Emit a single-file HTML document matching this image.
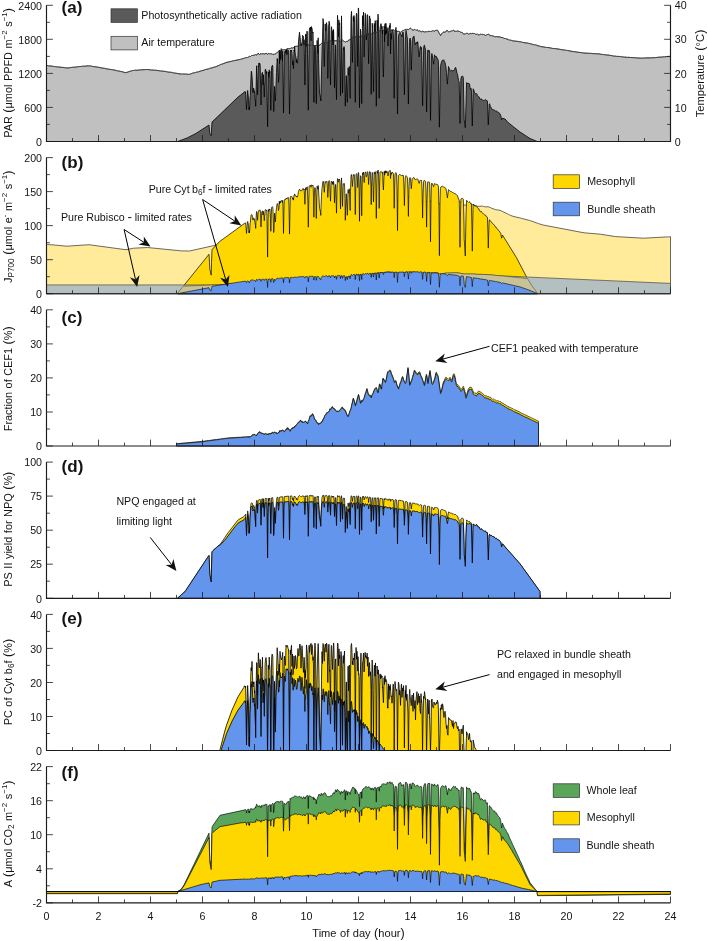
<!DOCTYPE html>
<html><head><meta charset="utf-8"><title>Figure</title>
<style>html,body{margin:0;padding:0;background:#fff}svg{display:block;will-change:transform}</style></head>
<body>
<svg width="708" height="941" viewBox="0 0 708 941">
<rect width="708" height="941" fill="#fff"/>
<path d="M46.5 141.5 L46.5 65.5 L47.5 65.5 L48.5 65.8 L49.5 65.9 L50 65.9 L51 66 L52.5 66.2 L53 66.4 L54 66.5 L54.5 66.5 L55.5 66.7 L56 66.7 L56.5 66.8 L57 66.8 L57.5 66.9 L58.5 67 L60 67 L61.5 67.4 L62 67.3 L64.5 67.6 L65.5 67.8 L66 67.8 L66.5 67.9 L68 67.9 L69.5 67.7 L71 67.6 L71.5 67.4 L72 67.4 L72.5 67.3 L73.5 67.2 L74 67.3 L75.5 67 L76.5 67 L77.5 66.8 L78 66.6 L79 66.5 L79.5 66.6 L81.5 66.4 L82.5 66.2 L84.5 66.2 L85 66.2 L87 65.9 L88 65.8 L88.5 65.9 L89 65.7 L90 65.8 L90.5 66 L91.5 66.1 L92.5 66.4 L93.5 66.6 L94 66.6 L96.5 66.9 L97 67.1 L98.5 67.2 L100 67.6 L103 68.2 L104.5 68.3 L105.5 68.6 L107 68.8 L107.5 69 L108 69 L108.5 69.1 L109 69.1 L109.5 69.3 L111.5 69.6 L112 69.7 L112.5 69.7 L113 69.9 L114.5 70 L116.5 70.6 L117 70.7 L117.5 70.8 L118.5 71 L119 71 L120.5 71.4 L122 71.7 L125.5 72.7 L128 72 L129.5 71.4 L131 71.1 L131.5 70.9 L132.5 70.6 L133 70.6 L133.5 70.5 L134 70.5 L134.5 70.2 L135.5 70.2 L136 70.3 L137 70.2 L138 70.2 L139 70.1 L139.5 69.8 L140.5 69.8 L141.5 69.9 L142 69.7 L145 69.7 L145.5 69.5 L146.5 69.5 L147 69.6 L148 69.5 L149 69.7 L151.5 70 L153 70 L153.5 70.1 L154 70.3 L155 70.2 L155.5 70.1 L156 70.3 L159 70.7 L159.5 70.8 L160 70.8 L160.5 70.9 L161 70.9 L161.5 71.1 L162 71 L163 71.1 L164.5 71.4 L165 71.4 L166 71.5 L166.5 71.7 L167 71.7 L167.5 71.9 L169 72.2 L170.5 72.2 L172.5 72.5 L173.5 72.9 L174 73 L175.5 73.1 L178 73.6 L179 73.7 L180 74 L181.5 73.9 L182 74.1 L182.5 74.1 L183.5 73.9 L185.5 74.1 L186.5 74.1 L187 74 L188.5 74.4 L189.5 74.2 L190 74 L190.5 74 L192 73.4 L192.5 73.2 L194.5 72.7 L195.5 72.5 L196.5 72.1 L197 72 L197.5 72 L198.5 71.8 L199 71.5 L201 71 L201.5 70.7 L203 70.5 L205.5 69.5 L208.5 68.9 L210 68.2 L210.5 68.2 L213 67.6 L213.5 67.3 L215.5 66.8 L218 65.8 L220 64.9 L220.5 64.5 L221.5 64.2 L222 64.2 L226 62.6 L228 62 L229.5 61.7 L230 61.5 L231.5 61.3 L232.5 60.9 L233.5 60.8 L238 59.8 L238.5 59.8 L239 59.6 L240 59.4 L240.5 59.3 L241 59.2 L241.5 59 L242 58.9 L243 58.6 L243.5 58.4 L244 58.5 L244.5 58.2 L245 58.2 L245.5 57.6 L246 57.7 L246.5 57.6 L247 57.5 L247.5 57.5 L248 57.1 L248.5 57 L249 56.6 L249.5 56.4 L250 56.6 L250.5 56.5 L251 56.1 L251.5 55.5 L252 55.1 L252.5 55.5 L254.6 55.1 L255 55.2 L255.5 54.6 L256 54.9 L256.6 55 L257 54.9 L258 53.2 L259 54 L259.5 54.6 L260 54 L260.5 53.8 L261 53.5 L261.5 54 L262 54.1 L263 53.6 L263.5 53.7 L264 54.1 L265.5 53.7 L266 53.1 L267 53.6 L267.5 54.4 L268 54.1 L268.5 53.4 L269.5 53.7 L270 54 L270.5 53.8 L271 53.7 L271.5 53.8 L272 54.1 L272.5 54.1 L273 54.6 L273.5 54.3 L274 54.5 L274.5 54 L275.5 53.8 L276 53.5 L276.5 52.8 L277 52.7 L278.5 51.6 L279.5 51.5 L280 51 L280.5 50.7 L281 51.1 L281.5 50.9 L282 50.4 L282.5 49.6 L283 49.7 L283.5 49.8 L284.5 49.7 L285.1 49.8 L285.5 49.8 L286 49.6 L286.5 49.2 L288 48.4 L288.5 48.6 L289 48.5 L289.5 48.6 L290 48.5 L290.5 48.4 L291 48.3 L292 47.6 L292.5 48 L293 47.6 L293.5 47.6 L294 47.3 L294.5 47.2 L295 46.9 L295.5 46.2 L296 45.9 L296.5 46.3 L297.5 46.3 L298 45.6 L298.5 45.6 L299 45.6 L299.6 45.3 L300 45.3 L300.5 45 L301 44.9 L301.5 44.7 L302.5 44.5 L303 44.1 L303.5 44.8 L304 44.5 L304.5 44.6 L305 43.6 L305.5 43.3 L306 43.2 L307 43.7 L307.5 43.8 L308 44.2 L309 45.5 L309.5 45.4 L310.5 45.5 L311 45.4 L311.5 44.9 L312 44.6 L312.5 45.3 L313.1 45.5 L313.5 45.6 L314 45.5 L315 45.7 L315.5 45.6 L316 45.8 L317 44.9 L317.5 44.9 L318 44.9 L318.5 45.4 L319 45 L319.5 45.3 L320 44.9 L320.5 44.3 L321.5 43.4 L322.5 44.1 L323 44.2 L323.5 44 L324 42.9 L325 42.5 L325.5 42.8 L326 42.8 L326.5 43.1 L327 42.9 L327.5 42.7 L328 41.8 L328.5 41.8 L330 41.1 L330.5 40.8 L331 41.4 L331.6 41.4 L332.5 41.7 L333.5 41.3 L334 40.8 L334.5 40.9 L335 40.7 L336.5 40.8 L337 40.2 L337.5 40.4 L338 40.8 L338.5 41.3 L339 41.2 L339.5 41.3 L340 41.1 L340.5 41.2 L341 40.7 L342 40 L342.5 40.1 L343.5 41 L344.5 41.5 L345 41.7 L345.5 42.1 L346 42 L346.5 41.4 L347 41.6 L348 41.2 L348.5 40.2 L349 40.3 L349.5 39.9 L350 39.8 L350.5 39 L351 39.2 L351.6 38.3 L352 37.9 L352.5 37.2 L353 37.4 L354 37.2 L354.5 36.7 L355 37 L355.5 37.1 L356.1 37 L356.5 36.8 L357 36.2 L357.5 36.2 L358 35.8 L359 36.2 L359.5 36.9 L360 37 L360.5 36.7 L361 36 L361.5 36.1 L362 36 L362.5 36.3 L363.5 36.6 L364 36.2 L364.5 36 L365.5 35.2 L366 35.2 L367 36.4 L367.5 35.9 L368 34.4 L368.5 33.7 L369 33.8 L369.5 34.4 L370 34.7 L370.5 34.2 L371 34.3 L371.5 33.8 L372 33.9 L372.5 33.3 L373.5 32.9 L374 32.9 L374.5 32.5 L375.5 31.8 L376.5 32.2 L377 32.4 L377.5 32.2 L378 31.8 L378.5 31.6 L379 30.8 L379.5 30.7 L380 30.7 L380.5 31 L381 31.1 L381.5 30.4 L382 30.4 L382.5 30.1 L383 30.6 L383.5 30.5 L384 31 L384.5 30 L385 29.5 L385.5 28.7 L386 29.5 L386.5 29.6 L387 29.5 L387.5 29 L388 28.7 L388.5 28.6 L389 29.3 L389.5 29.5 L390 30.5 L390.5 30.4 L391 30.7 L391.5 30.3 L392 30.4 L392.5 30.2 L393 29.7 L394 30.1 L394.5 30.8 L395.5 30.6 L396.5 30.7 L397 31.5 L397.5 31.4 L398 31.5 L398.5 31.4 L399 31.4 L399.6 31.8 L400.5 32.3 L401 31.9 L401.5 31.8 L402 31 L402.6 30.6 L403 30.4 L403.5 30.4 L404 30.3 L404.5 30 L405 29.5 L406 29.4 L406.5 29.6 L407 29.1 L408 29.6 L408.5 29.6 L409.5 28.6 L410 28.5 L410.5 28.2 L411 28.4 L412 29.7 L413 30.1 L413.5 30.1 L414 29.9 L414.5 29.4 L415 29.4 L416 30.5 L416.5 30.2 L417 29.7 L418 30.4 L418.5 31.2 L419 30.8 L419.5 30.7 L420.5 31.1 L421 31.9 L421.6 31.8 L422.5 31.3 L424.5 32 L425.6 31.6 L426 31.4 L426.5 31.9 L427 31.9 L427.6 31.6 L428.5 31.3 L429 31.5 L429.6 31.4 L430.5 31.5 L431 31.7 L431.5 31.3 L432 31.2 L432.5 30.8 L433 31 L433.5 30.9 L434 31.2 L434.5 31.2 L435 31 L435.5 30.4 L436 30.3 L437 30.4 L437.5 30.3 L438 30.7 L438.5 32 L439 32.8 L439.5 33.9 L440 34.5 L440.5 35.6 L442 33.3 L442.5 32.8 L443 32.3 L443.5 32.1 L444 32.1 L445 32.2 L445.5 32 L446.5 30.6 L447 30.3 L447.5 30.5 L448 31.3 L448.5 31.9 L449.5 31.8 L450 31.4 L450.5 31.3 L451.5 31 L452 31.4 L452.5 31 L453 30.4 L453.5 30 L454 30.6 L454.5 31.5 L455.5 31.3 L456 30.9 L456.5 31.3 L457 31 L457.5 30.9 L459.5 31.5 L460 32 L460.5 32.1 L461 32.4 L461.5 32.2 L462 32.8 L462.5 32.7 L463 33.6 L463.5 33.9 L464 34.3 L464.5 33.9 L465 34.2 L465.5 33.7 L466 33.7 L466.5 33.3 L467.5 33.4 L468.5 34.1 L469.5 33.8 L470 33.4 L470.6 33.4 L471 33.4 L471.5 33.6 L472 33.4 L473.2 33.4 L473.5 33.5 L474 33.7 L474.5 33.5 L475 33.9 L475.5 34 L476 34.6 L476.5 34.2 L477.5 34 L478 34.5 L479 35.2 L479.5 35 L480 34.5 L480.5 34 L481 33.9 L481.5 34.4 L482 34.3 L482.5 34.4 L483 34.3 L483.5 34.5 L484 34.5 L484.5 34.9 L485 35 L485.5 35.4 L486 35 L486.5 34.9 L487 34.6 L487.5 34.5 L488 34.7 L488.5 34.3 L489 34.6 L489.5 34.7 L490 35.5 L491 35.8 L491.5 35.6 L493 35.9 L493.5 36.2 L494 36.3 L494.5 36.6 L495 36.6 L495.5 36.7 L496 36.7 L496.5 36.6 L498 36.8 L500 36.9 L500.5 37.1 L501 37.5 L502 37.6 L502.5 37.5 L503.5 38.1 L504.5 38.5 L505 38.3 L506 38.7 L506.5 39 L507 39 L508 39.3 L508.5 39.8 L509 39.8 L509.5 40 L510 39.9 L510.5 40.1 L511 40.1 L511.5 40.4 L512.5 40.8 L513 40.8 L514.5 41 L518.5 41.5 L520 41.9 L520.5 41.8 L521 41.8 L521.5 41.9 L522 42.2 L522.5 42.4 L524 42.5 L525 42.8 L527 43 L527.5 43 L528 43.1 L528.5 43.3 L530 43.6 L530.5 43.8 L531.5 44 L532.5 44.3 L533 44.4 L533.5 44.6 L534.5 44.9 L535.5 44.8 L536.5 45.1 L537 45.5 L538 45.8 L539.5 46.1 L540.5 46.4 L541 46.6 L542 46.8 L543 46.8 L545.5 47.3 L546.5 47.5 L547.5 47.5 L549 47.6 L550.5 48 L551.5 48.1 L552.5 48.4 L554.5 48.6 L555.5 48.6 L558 49 L559 49.2 L560 49.3 L561 49.6 L563 49.8 L563.5 49.9 L564.5 49.9 L565 50 L565.5 50.2 L566.5 50.4 L567.5 50.5 L569 50.8 L573 51.5 L574 51.7 L574.5 51.8 L575 51.7 L576 51.8 L576.5 52 L577 52 L579 52.4 L581.5 52.6 L583 53 L583.5 52.9 L584 53 L585 53.1 L587.5 53.2 L588 53.3 L589.5 53.3 L591.5 53.4 L593.5 53.7 L594 53.7 L596.5 53.7 L597 53.8 L598 53.9 L598.5 53.8 L599 53.8 L601.5 54.4 L602.5 54.4 L603.5 54.6 L604.5 54.6 L606.5 55 L608 55 L609 55.2 L610.5 55.4 L612 55.7 L613.5 56 L614.5 56.1 L615 56 L616.5 56.4 L618 56.3 L619 56.5 L619.5 56.5 L620 56.6 L620.5 56.6 L621 56.7 L621.5 56.7 L623.5 57 L624.5 57.1 L626 57.1 L627 57.4 L627.5 57.4 L629 57.3 L630.5 57.5 L634.5 57.7 L636 57.9 L636.5 57.8 L637 57.9 L640 58.1 L641.5 58.1 L642 58.2 L642.5 58.1 L643 58 L644 58 L644.5 58.1 L646 57.9 L648 57.8 L649 57.9 L651 57.8 L651.5 57.8 L655.5 57.6 L659.5 57.1 L661 57.1 L661.5 57 L662.5 57 L664 56.7 L664.5 56.8 L665 56.7 L667 56.6 L668.5 56.5 L669 56.4 L669.5 56.4 L670.5 56.2 L670.5 141.5 Z" fill="#c0c0c0" stroke="#2c2c2c" stroke-width="0.75" stroke-linejoin="round" />
<path d="M177.9 141.5 L177.9 141.4 L187 138 L196 133.4 L209 125 L209.8 133.4 L211.2 135.7 L212 122.1 L238 97.1 L244 92.4 L244.5 91.7 L245 91.8 L245.5 92.5 L245.6 91.7 L246.5 109.6 L247 101.6 L247.5 91.9 L247.7 90.4 L248.5 99.3 L249 109.7 L249.3 107 L249.5 109.8 L250 98 L250.3 95.7 L251 76.9 L251.3 71.1 L251.5 71.5 L252 75.8 L253 92.6 L253.3 89 L253.5 88.1 L254 89.2 L254.5 92.4 L254.6 91.7 L255 98.7 L255.5 102.7 L255.7 106.3 L256.6 65.8 L257 75.6 L257.5 94.8 L257.6 94.4 L258.4 65.7 L258.5 66.9 L259 62.9 L259.2 64.5 L259.5 63.1 L260 63.9 L260.2 66.1 L261 105 L261.8 75 L262 73.1 L262.5 72.3 L263 85 L263.5 74.7 L264.3 97 L264.5 89.3 L265 80.9 L265.1 70.2 L265.5 69.1 L266.5 73.9 L266.8 71.4 L267 92.1 L267.6 126.9 L268.4 72.1 L268.5 76.9 L269 77.3 L269.2 69.8 L269.5 73.1 L270 71.4 L270.8 110.3 L271.6 67 L272 66.3 L272.5 65.2 L272.8 67.1 L273.6 111.6 L274 110 L274.5 86.4 L275.3 101 L275.5 99 L276 84.4 L276.5 72.5 L277.2 58.5 L277.5 60.7 L277.7 59.5 L278.5 82.4 L279 75.7 L279.3 50 L279.5 63.7 L280 50.6 L280.5 59.5 L281.2 48.6 L281.5 49.7 L282 56.7 L282.5 61 L282.7 51.2 L283.5 113 L284.3 55.6 L284.5 55.9 L285 51.3 L285.1 53.2 L285.5 50.4 L286 52.6 L286.5 49.1 L287 54.8 L287.1 50.5 L287.5 49.8 L288 49.7 L288.5 50.5 L288.7 53 L289 80.2 L289.5 114 L290 86.2 L290.3 52.6 L290.5 50.1 L291 51.1 L291.5 50 L292 53.6 L292.5 63.7 L292.8 65 L293 60.9 L293.5 68.6 L294 50.1 L294.5 51.7 L294.6 46 L295 51.9 L295.5 55.6 L296 57.4 L296.4 62.4 L296.5 59.5 L297 62.6 L297.5 63.2 L298 55 L298.5 41.3 L299.5 32.1 L299.6 33.9 L300 36 L300.5 41.6 L301 45.9 L301.3 43.8 L301.5 45.3 L302 42.8 L302.4 37.8 L302.5 35.3 L303.5 36.5 L304 44.6 L304.1 39.7 L304.9 85 L305 77.1 L305.5 53.8 L305.7 34 L306 46.5 L306.5 36.7 L307 31.1 L307.3 31.9 L307.5 53.6 L308 85.3 L308.3 110.2 L309 50.1 L309.1 33.1 L309.5 29.2 L310 27.7 L310.2 29.9 L310.5 27 L311 40.8 L311.5 26.6 L311.9 29.2 L312 28.6 L312.5 32.9 L313 32.8 L313.1 32.1 L313.5 72 L313.9 102.3 L314.6 46.5 L315 45.2 L315.5 48.8 L316.3 103.6 L317.1 40.4 L317.5 46.9 L318 53.4 L318.2 37.8 L318.5 58.7 L319.5 93 L320 94.9 L320.5 98.1 L320.8 101 L322 53.2 L322.5 38.4 L323 18.5 L323.5 23 L324 54.7 L324.3 66.4 L324.5 54.8 L325 36.4 L325.2 23.9 L325.5 30.9 L326 29 L326.5 22.6 L327 26.1 L327.8 78.4 L328.5 50.5 L328.6 26.1 L328.9 23.9 L329 21.3 L329.5 22.8 L329.7 26.3 L330 64.5 L330.5 85 L331.3 30.2 L331.5 26.7 L332 31.8 L332.5 41.5 L332.8 30.5 L333 45 L333.5 29.5 L333.7 32.8 L334.5 87.6 L335 62.8 L335.4 46.5 L335.5 44.9 L335.7 48.6 L336 78.4 L336.5 99.6 L337.5 15.3 L338 25 L338.5 36.8 L338.9 19.9 L339 24.9 L339.5 22.8 L339.7 22.9 L340.5 95.6 L341.5 15.9 L342 59.4 L342.5 93 L343.3 48.4 L343.5 49.7 L344 46.5 L344.5 48.9 L345.3 106.2 L345.5 97.8 L346 83.8 L346.1 76.9 L346.4 75.7 L346.5 83 L347.3 102.3 L347.5 97.6 L348 70.4 L348.1 67.8 L348.5 75.1 L349 74.8 L349.3 66.4 L349.5 77.7 L350 95.3 L350.2 98.3 L350.5 73.3 L351 17.3 L351.5 11.3 L351.6 13.9 L352 40.6 L352.4 62.4 L353 34.8 L353.3 16.6 L353.5 21.3 L354 15.5 L354.5 20 L355 76.5 L355.3 102.3 L356 34.9 L356.1 18.1 L356.5 13.2 L356.9 14.6 L357 18.1 L357.7 66.4 L358 43.3 L358.3 8 L358.5 8 L358.7 12 L359.5 107.6 L360.5 29.2 L360.9 32.2 L361.7 103.6 L362 75.8 L362.5 15.7 L363 25.6 L363.5 12 L364 54 L364.3 57.1 L365 20.1 L365.2 13.3 L365.5 14.4 L366 27.5 L366.3 39.8 L366.5 36.9 L367 32.4 L367.1 15.6 L367.5 14.6 L367.8 16.6 L368.6 63.7 L369 44.6 L369.5 15.9 L370 18.4 L370.4 19 L370.5 36.1 L371 73.8 L371.2 94.3 L372.2 23.2 L372.5 27 L372.7 25.9 L373 64 L373.5 91.6 L374 60.6 L374.3 23.4 L374.5 26.9 L375 31.9 L375.2 20.6 L375.5 24 L376.3 106.2 L376.5 92.6 L377.1 20.2 L377.5 30.4 L378 14.1 L378.4 19.9 L378.5 41.6 L379.2 98.3 L380 28.1 L380.5 25.2 L381 23.6 L381.5 26.4 L381.8 28.6 L382 26.3 L382.5 33.9 L382.6 30.5 L383 64.9 L383.4 77 L383.5 74.3 L384 45.2 L384.2 26 L384.5 42 L385 23.7 L385.5 34.8 L385.8 23.9 L386 23.3 L386.5 33.3 L387 27.5 L387.5 33.7 L387.8 34.5 L388 46.1 L388.5 32.7 L389 28.3 L389.5 25.5 L390 27.9 L390.2 23.2 L390.5 54 L391 33.4 L391.5 39.2 L391.8 31.9 L392 29.5 L393 31.2 L393.4 34.6 L394.2 98.3 L395 32.6 L395.5 30.3 L396 27.4 L396.1 30 L396.5 30.4 L397.5 114 L398.4 36.8 L399 33.8 L399.5 33.3 L399.6 32.8 L400 33.1 L400.5 33.5 L401 34.5 L401.3 35.6 L401.5 35.4 L402 36.9 L402.6 32.8 L403 31.9 L403.4 33.2 L404.4 94.7 L405.4 36.3 L405.5 35.7 L406 30.4 L407.4 38.8 L408.4 104.1 L409.4 42.6 L409.5 41.9 L409.7 39.3 L410 38.1 L410.4 38.5 L411.3 70.1 L412.2 41 L412.5 39.4 L412.9 37.5 L413 37.2 L413.5 37.3 L413.9 36.1 L414 36.2 L415 44.4 L415.3 44.8 L415.5 44 L416 42.5 L416.5 42.4 L417 43.7 L417.7 41.7 L418 44 L418.5 51.9 L419 56.1 L419.2 56.9 L420 48.3 L420.5 46.4 L420.8 46.8 L421 48.8 L421.5 47.6 L421.6 47.6 L422.6 105.7 L423.6 50.2 L423.9 45.9 L424 45.5 L424.5 45.2 L425 47.8 L425.2 48.1 L425.5 50 L425.6 50.2 L426.6 112 L427.6 52.1 L427.9 49.9 L428 50 L428.5 51.5 L429 51.3 L429.2 50.4 L429.5 51.4 L429.6 51.8 L430.5 120.4 L431.4 57 L431.9 53.5 L433 59.7 L433.5 63.8 L433.6 64.2 L434 60.5 L434.5 54.8 L435 56.1 L435.5 56.6 L436 56.1 L436.5 56.8 L437 58.9 L437.4 58.4 L437.5 58.5 L438 59.4 L438.4 62.1 L439.4 127.2 L440.4 66.8 L440.5 66.5 L441 63.8 L441.2 63 L442 61 L442.5 59.9 L443 60.4 L443.5 60.2 L443.8 59.8 L444 60.5 L444.5 61.3 L445 62.5 L445.5 65.1 L445.8 65.7 L446.5 72.6 L447.4 84.1 L448.5 66.5 L449 67.7 L450 70.6 L450.5 71.2 L451 70.4 L451.5 70.3 L452.5 70.9 L453 70.5 L453.5 70 L453.8 70.5 L454 70.6 L454.5 69.7 L455 68 L455.5 67.4 L455.8 67.6 L457 73.2 L457.3 73.7 L457.5 74.3 L458.5 80.4 L459 81.4 L459.2 81.9 L460 123.4 L460.9 78.6 L461.5 77 L461.6 76.4 L462 76 L462.5 76 L463 76.8 L463.3 77.5 L464.2 119.7 L465.3 127.7 L466.6 82.6 L467 83.5 L467.5 83.3 L468 83.3 L468.5 83.6 L468.6 83.3 L469 83.3 L469.5 84.1 L470 87.2 L470.5 89.4 L471 88.4 L471.4 89.6 L472.3 126 L473.2 88.8 L473.5 89.7 L474 90.5 L474.5 92.7 L475 93.4 L475.5 93.5 L475.9 94.1 L476 94.2 L476.5 93.6 L477 94.2 L477.5 95.8 L478 96.4 L478.6 96.7 L479 96.8 L480 99 L480.5 99.5 L481.5 98.8 L482 99.6 L482.5 100.2 L483 100.2 L483.5 100.4 L484.5 100.3 L485 99.8 L485.5 99.6 L486 100.3 L486.5 100.7 L486.8 100.4 L487 100.5 L487.4 100.9 L488.3 124.8 L489.2 104.2 L489.6 103.7 L490 105.2 L490.5 106.5 L491.5 108.3 L491.8 109.1 L492 109.3 L492.5 109.6 L493 109.6 L493.5 109.7 L494 110.2 L494.5 110.2 L495 110.5 L495.5 111.2 L496 110.8 L496.5 110.9 L497 111.6 L498 112.3 L498.5 112.5 L499 112.8 L499.8 113.5 L500.5 115.1 L500.8 115.6 L501.6 119.9 L502.5 118.2 L505.1 119 L507.8 122.3 L520 132 L530 138.5 L537 141.4 L537 141.5 Z" fill="#5a5a5a" stroke="#000" stroke-width="0.8" stroke-linejoin="round" />
<path d="M46.5 65.5 L47.5 65.5 L48.5 65.8 L49.5 65.9 L50 65.9 L51 66 L52.5 66.2 L53 66.4 L54 66.5 L54.5 66.5 L55.5 66.7 L56 66.7 L56.5 66.8 L57 66.8 L57.5 66.9 L58.5 67 L60 67 L61.5 67.4 L62 67.3 L64.5 67.6 L65.5 67.8 L66 67.8 L66.5 67.9 L68 67.9 L69.5 67.7 L71 67.6 L71.5 67.4 L72 67.4 L72.5 67.3 L73.5 67.2 L74 67.3 L75.5 67 L76.5 67 L77.5 66.8 L78 66.6 L79 66.5 L79.5 66.6 L81.5 66.4 L82.5 66.2 L84.5 66.2 L85 66.2 L87 65.9 L88 65.8 L88.5 65.9 L89 65.7 L90 65.8 L90.5 66 L91.5 66.1 L92.5 66.4 L93.5 66.6 L94 66.6 L96.5 66.9 L97 67.1 L98.5 67.2 L100 67.6 L103 68.2 L104.5 68.3 L105.5 68.6 L107 68.8 L107.5 69 L108 69 L108.5 69.1 L109 69.1 L109.5 69.3 L111.5 69.6 L112 69.7 L112.5 69.7 L113 69.9 L114.5 70 L116.5 70.6 L117 70.7 L117.5 70.8 L118.5 71 L119 71 L120.5 71.4 L122 71.7 L125.5 72.7 L128 72 L129.5 71.4 L131 71.1 L131.5 70.9 L132.5 70.6 L133 70.6 L133.5 70.5 L134 70.5 L134.5 70.2 L135.5 70.2 L136 70.3 L137 70.2 L138 70.2 L139 70.1 L139.5 69.8 L140.5 69.8 L141.5 69.9 L142 69.7 L145 69.7 L145.5 69.5 L146.5 69.5 L147 69.6 L148 69.5 L149 69.7 L151.5 70 L153 70 L153.5 70.1 L154 70.3 L155 70.2 L155.5 70.1 L156 70.3 L159 70.7 L159.5 70.8 L160 70.8 L160.5 70.9 L161 70.9 L161.5 71.1 L162 71 L163 71.1 L164.5 71.4 L165 71.4 L166 71.5 L166.5 71.7 L167 71.7 L167.5 71.9 L169 72.2 L170.5 72.2 L172.5 72.5 L173.5 72.9 L174 73 L175.5 73.1 L178 73.6 L179 73.7 L180 74 L181.5 73.9 L182 74.1 L182.5 74.1 L183.5 73.9 L185.5 74.1 L186.5 74.1 L187 74 L188.5 74.4 L189.5 74.2 L190 74 L190.5 74 L192 73.4 L192.5 73.2 L194.5 72.7 L195.5 72.5 L196.5 72.1 L197 72 L197.5 72 L198.5 71.8 L199 71.5 L201 71 L201.5 70.7 L203 70.5 L205.5 69.5 L208.5 68.9 L210 68.2 L210.5 68.2 L213 67.6 L213.5 67.3 L215.5 66.8 L218 65.8 L220 64.9 L220.5 64.5 L221.5 64.2 L222 64.2 L226 62.6 L228 62 L229.5 61.7 L230 61.5 L231.5 61.3 L232.5 60.9 L233.5 60.8 L238 59.8 L238.5 59.8 L239 59.6 L240 59.4 L240.5 59.3 L241 59.2 L241.5 59 L242 58.9 L243 58.6 L243.5 58.4 L244 58.5 L244.5 58.2 L245 58.2 L245.5 57.6 L246 57.7 L246.5 57.6 L247 57.5 L247.5 57.5 L248 57.1 L248.5 57 L249 56.6 L249.5 56.4 L250 56.6 L250.5 56.5 L251 56.1 L251.5 55.5 L252 55.1 L252.5 55.5 L254.6 55.1 L255 55.2 L255.5 54.6 L256 54.9 L256.6 55 L257 54.9 L258 53.2 L259 54 L259.5 54.6 L260 54 L260.5 53.8 L261 53.5 L261.5 54 L262 54.1 L263 53.6 L263.5 53.7 L264 54.1 L265.5 53.7 L266 53.1 L267 53.6 L267.5 54.4 L268 54.1 L268.5 53.4 L269.5 53.7 L270 54 L270.5 53.8 L271 53.7 L271.5 53.8 L272 54.1 L272.5 54.1 L273 54.6 L273.5 54.3 L274 54.5 L274.5 54 L275.5 53.8 L276 53.5 L276.5 52.8 L277 52.7 L278.5 51.6 L279.5 51.5 L280 51 L280.5 50.7 L281 51.1 L281.5 50.9 L282 50.4 L282.5 49.6 L283 49.7 L283.5 49.8 L284.5 49.7 L285.1 49.8 L285.5 49.8 L286 49.6 L286.5 49.2 L288 48.4 L288.5 48.6 L289 48.5 L289.5 48.6 L290 48.5 L290.5 48.4 L291 48.3 L292 47.6 L292.5 48 L293 47.6 L293.5 47.6 L294 47.3 L294.5 47.2 L295 46.9 L295.5 46.2 L296 45.9 L296.5 46.3 L297.5 46.3 L298 45.6 L298.5 45.6 L299 45.6 L299.6 45.3 L300 45.3 L300.5 45 L301 44.9 L301.5 44.7 L302.5 44.5 L303 44.1 L303.5 44.8 L304 44.5 L304.5 44.6 L305 43.6 L305.5 43.3 L306 43.2 L307 43.7 L307.5 43.8 L308 44.2 L309 45.5 L309.5 45.4 L310.5 45.5 L311 45.4 L311.5 44.9 L312 44.6 L312.5 45.3 L313.1 45.5 L313.5 45.6 L314 45.5 L315 45.7 L315.5 45.6 L316 45.8 L317 44.9 L317.5 44.9 L318 44.9 L318.5 45.4 L319 45 L319.5 45.3 L320 44.9 L320.5 44.3 L321.5 43.4 L322.5 44.1 L323 44.2 L323.5 44 L324 42.9 L325 42.5 L325.5 42.8 L326 42.8 L326.5 43.1 L327 42.9 L327.5 42.7 L328 41.8 L328.5 41.8 L330 41.1 L330.5 40.8 L331 41.4 L331.6 41.4 L332.5 41.7 L333.5 41.3 L334 40.8 L334.5 40.9 L335 40.7 L336.5 40.8 L337 40.2 L337.5 40.4 L338 40.8 L338.5 41.3 L339 41.2 L339.5 41.3 L340 41.1 L340.5 41.2 L341 40.7 L342 40 L342.5 40.1 L343.5 41 L344.5 41.5 L345 41.7 L345.5 42.1 L346 42 L346.5 41.4 L347 41.6 L348 41.2 L348.5 40.2 L349 40.3 L349.5 39.9 L350 39.8 L350.5 39 L351 39.2 L351.6 38.3 L352 37.9 L352.5 37.2 L353 37.4 L354 37.2 L354.5 36.7 L355 37 L355.5 37.1 L356.1 37 L356.5 36.8 L357 36.2 L357.5 36.2 L358 35.8 L359 36.2 L359.5 36.9 L360 37 L360.5 36.7 L361 36 L361.5 36.1 L362 36 L362.5 36.3 L363.5 36.6 L364 36.2 L364.5 36 L365.5 35.2 L366 35.2 L367 36.4 L367.5 35.9 L368 34.4 L368.5 33.7 L369 33.8 L369.5 34.4 L370 34.7 L370.5 34.2 L371 34.3 L371.5 33.8 L372 33.9 L372.5 33.3 L373.5 32.9 L374 32.9 L374.5 32.5 L375.5 31.8 L376.5 32.2 L377 32.4 L377.5 32.2 L378 31.8 L378.5 31.6 L379 30.8 L379.5 30.7 L380 30.7 L380.5 31 L381 31.1 L381.5 30.4 L382 30.4 L382.5 30.1 L383 30.6 L383.5 30.5 L384 31 L384.5 30 L385 29.5 L385.5 28.7 L386 29.5 L386.5 29.6 L387 29.5 L387.5 29 L388 28.7 L388.5 28.6 L389 29.3 L389.5 29.5 L390 30.5 L390.5 30.4 L391 30.7 L391.5 30.3 L392 30.4 L392.5 30.2 L393 29.7 L394 30.1 L394.5 30.8 L395.5 30.6 L396.5 30.7 L397 31.5 L397.5 31.4 L398 31.5 L398.5 31.4 L399 31.4 L399.6 31.8 L400.5 32.3 L401 31.9 L401.5 31.8 L402 31 L402.6 30.6 L403 30.4 L403.5 30.4 L404 30.3 L404.5 30 L405 29.5 L406 29.4 L406.5 29.6 L407 29.1 L408 29.6 L408.5 29.6 L409.5 28.6 L410 28.5 L410.5 28.2 L411 28.4 L412 29.7 L413 30.1 L413.5 30.1 L414 29.9 L414.5 29.4 L415 29.4 L416 30.5 L416.5 30.2 L417 29.7 L418 30.4 L418.5 31.2 L419 30.8 L419.5 30.7 L420.5 31.1 L421 31.9 L421.6 31.8 L422.5 31.3 L424.5 32 L425.6 31.6 L426 31.4 L426.5 31.9 L427 31.9 L427.6 31.6 L428.5 31.3 L429 31.5 L429.6 31.4 L430.5 31.5 L431 31.7 L431.5 31.3 L432 31.2 L432.5 30.8 L433 31 L433.5 30.9 L434 31.2 L434.5 31.2 L435 31 L435.5 30.4 L436 30.3 L437 30.4 L437.5 30.3 L438 30.7 L438.5 32 L439 32.8 L439.5 33.9 L440 34.5 L440.5 35.6 L442 33.3 L442.5 32.8 L443 32.3 L443.5 32.1 L444 32.1 L445 32.2 L445.5 32 L446.5 30.6 L447 30.3 L447.5 30.5 L448 31.3 L448.5 31.9 L449.5 31.8 L450 31.4 L450.5 31.3 L451.5 31 L452 31.4 L452.5 31 L453 30.4 L453.5 30 L454 30.6 L454.5 31.5 L455.5 31.3 L456 30.9 L456.5 31.3 L457 31 L457.5 30.9 L459.5 31.5 L460 32 L460.5 32.1 L461 32.4 L461.5 32.2 L462 32.8 L462.5 32.7 L463 33.6 L463.5 33.9 L464 34.3 L464.5 33.9 L465 34.2 L465.5 33.7 L466 33.7 L466.5 33.3 L467.5 33.4 L468.5 34.1 L469.5 33.8 L470 33.4 L470.6 33.4 L471 33.4 L471.5 33.6 L472 33.4 L473.2 33.4 L473.5 33.5 L474 33.7 L474.5 33.5 L475 33.9 L475.5 34 L476 34.6 L476.5 34.2 L477.5 34 L478 34.5 L479 35.2 L479.5 35 L480 34.5 L480.5 34 L481 33.9 L481.5 34.4 L482 34.3 L482.5 34.4 L483 34.3 L483.5 34.5 L484 34.5 L484.5 34.9 L485 35 L485.5 35.4 L486 35 L486.5 34.9 L487 34.6 L487.5 34.5 L488 34.7 L488.5 34.3 L489 34.6 L489.5 34.7 L490 35.5 L491 35.8 L491.5 35.6 L493 35.9 L493.5 36.2 L494 36.3 L494.5 36.6 L495 36.6 L495.5 36.7 L496 36.7 L496.5 36.6 L498 36.8 L500 36.9 L500.5 37.1 L501 37.5 L502 37.6 L502.5 37.5 L503.5 38.1 L504.5 38.5 L505 38.3 L506 38.7 L506.5 39 L507 39 L508 39.3 L508.5 39.8 L509 39.8 L509.5 40 L510 39.9 L510.5 40.1 L511 40.1 L511.5 40.4 L512.5 40.8 L513 40.8 L514.5 41 L518.5 41.5 L520 41.9 L520.5 41.8 L521 41.8 L521.5 41.9 L522 42.2 L522.5 42.4 L524 42.5 L525 42.8 L527 43 L527.5 43 L528 43.1 L528.5 43.3 L530 43.6 L530.5 43.8 L531.5 44 L532.5 44.3 L533 44.4 L533.5 44.6 L534.5 44.9 L535.5 44.8 L536.5 45.1 L537 45.5 L538 45.8 L539.5 46.1 L540.5 46.4 L541 46.6 L542 46.8 L543 46.8 L545.5 47.3 L546.5 47.5 L547.5 47.5 L549 47.6 L550.5 48 L551.5 48.1 L552.5 48.4 L554.5 48.6 L555.5 48.6 L558 49 L559 49.2 L560 49.3 L561 49.6 L563 49.8 L563.5 49.9 L564.5 49.9 L565 50 L565.5 50.2 L566.5 50.4 L567.5 50.5 L569 50.8 L573 51.5 L574 51.7 L574.5 51.8 L575 51.7 L576 51.8 L576.5 52 L577 52 L579 52.4 L581.5 52.6 L583 53 L583.5 52.9 L584 53 L585 53.1 L587.5 53.2 L588 53.3 L589.5 53.3 L591.5 53.4 L593.5 53.7 L594 53.7 L596.5 53.7 L597 53.8 L598 53.9 L598.5 53.8 L599 53.8 L601.5 54.4 L602.5 54.4 L603.5 54.6 L604.5 54.6 L606.5 55 L608 55 L609 55.2 L610.5 55.4 L612 55.7 L613.5 56 L614.5 56.1 L615 56 L616.5 56.4 L618 56.3 L619 56.5 L619.5 56.5 L620 56.6 L620.5 56.6 L621 56.7 L621.5 56.7 L623.5 57 L624.5 57.1 L626 57.1 L627 57.4 L627.5 57.4 L629 57.3 L630.5 57.5 L634.5 57.7 L636 57.9 L636.5 57.8 L637 57.9 L640 58.1 L641.5 58.1 L642 58.2 L642.5 58.1 L643 58 L644 58 L644.5 58.1 L646 57.9 L648 57.8 L649 57.9 L651 57.8 L651.5 57.8 L655.5 57.6 L659.5 57.1 L661 57.1 L661.5 57 L662.5 57 L664 56.7 L664.5 56.8 L665 56.7 L667 56.6 L668.5 56.5 L669 56.4 L669.5 56.4 L670.5 56.2" fill="none" stroke="#333" stroke-width="0.6" stroke-linejoin="round"/>
<path d="M46.5 293.7 L46.5 244.4 L47.5 244.4 L49.5 244.7 L51 244.7 L67 246.2 L89 244.7 L125 249.6 L127 249.5 L133.5 248.2 L147.5 247.5 L181.5 250.9 L189.5 251 L217 244.9 L227 241.7 L243 238.7 L249.5 236.9 L253.5 235.5 L255 235.3 L256.6 234.6 L258.5 234.2 L259.5 233.8 L261 233.9 L263 233.8 L263.5 233.9 L264.5 233.6 L265.1 233.6 L266 233.8 L267.6 233.6 L269.5 233.8 L270.5 233.8 L272 234.1 L274 234.1 L275 233.7 L276 233.1 L278.5 231.3 L280 230.6 L282 229.5 L284.5 228.7 L285.5 228.5 L290 226.9 L290.5 226.9 L293 226 L294 225.3 L295.5 224.7 L297.5 223.6 L299 223.1 L300 222.6 L302 222 L302.5 221.9 L304.5 221 L306 220.8 L307 220.9 L309.1 222.2 L310.5 222.7 L311 222.8 L313.5 222.9 L314.6 223.2 L318 222.6 L320 221.8 L321.5 221.3 L323 220.3 L323.5 220.1 L324.5 220 L325.5 219.6 L326 219.2 L328 218.5 L330 217.4 L333 217.1 L334.5 216.7 L335.7 216.2 L336 216.2 L338.5 216.6 L340 216.5 L341 216.2 L342 216.2 L343 216.4 L345 217.4 L345.5 217.6 L346.1 217.5 L347 217.2 L348.1 216.3 L348.5 215.9 L349 215.5 L350.5 213.6 L352.5 211.6 L353.5 210.9 L356.5 209.6 L358.7 209.4 L359 209.3 L360 209.2 L361.5 209.4 L364 208.6 L365.5 208.5 L367.1 207.3 L367.5 207.1 L368 207 L369 206.6 L369.5 206.1 L370 205.7 L371.5 205.3 L372.2 204.8 L373.5 203.7 L374.5 203.1 L376.5 202.3 L377.5 201.7 L379 201.1 L380.5 200.1 L381 199.9 L381.5 199.8 L382 199.8 L382.6 199.7 L383 199.4 L383.5 199 L385 198.5 L386 197.9 L386.5 197.4 L387 197.3 L387.5 197.3 L388 197.6 L389.5 198.2 L391 198.9 L393 199.2 L393.5 199.2 L394.5 199.3 L396.6 200.5 L397 200.6 L398 201.1 L398.5 201.4 L399 201.6 L399.6 201.7 L401.5 201.1 L402 200.8 L402.6 200.3 L404 198.9 L405.5 198.2 L408 197.4 L409 196.9 L411 197.1 L413 197.9 L414 198.5 L414.5 198.6 L415.5 198.6 L416 198.6 L418 199.6 L418.5 199.7 L420 200.7 L420.5 200.9 L421 200.9 L423 201.7 L424 201.6 L425.6 201.7 L428 201.3 L430 201.2 L433 200.7 L434.5 200.1 L435.5 199.9 L436 199.8 L436.5 200 L437 200.3 L437.5 200.8 L438 201.6 L439 203.5 L439.5 204.2 L440 204.8 L440.5 205.1 L441 205.2 L441.5 205.1 L442 204.7 L442.5 204.3 L444.5 202.1 L445 201.6 L445.5 201.2 L446 201.1 L447.5 200.9 L448 200.8 L448.5 200.8 L450 201.2 L450.5 201.2 L451.5 200.5 L452 200.3 L455 200.3 L456.5 200.7 L457.5 200.7 L459.5 201.5 L460.5 202.2 L462 203.7 L463 204.4 L464 204.9 L465 205.2 L469 204.9 L470 205 L471.5 204.7 L472.5 204.7 L473.5 204.9 L476.5 205.8 L477 206.1 L477.5 206.3 L478 206.4 L479 206.2 L480 206.3 L481 206.2 L482 206 L482.5 206.1 L483.5 206.5 L486 206.9 L488 206.7 L490.5 207.6 L492 208.4 L495.5 209.6 L496.5 209.8 L498.5 210 L501 210.7 L503 211.8 L507 213.6 L508.5 214.4 L510.5 215.4 L514 216.6 L520 217.9 L521.5 218.4 L529.5 220.4 L538.5 223.6 L543 225 L584 232.8 L600.5 234.2 L615.5 236.6 L643.5 238.2 L665 237 L668.5 236.9 L669 236.8 L669.5 236.8 L670.5 236.6 L670.5 293.7 Z" fill="#ffeb99" stroke="#2c2c2c" stroke-width="0.7" stroke-linejoin="round" />
<path d="M177.9 293.7 L177.9 292.9 L209 254.3 L209.5 262.2 L209.8 269 L211.2 275.1 L211.5 262.7 L212 249.8 L212.5 249.1 L219.5 241.6 L244 223.8 L244.5 223.2 L245 223.1 L245.5 223.2 L245.6 222.8 L246 226.5 L246.5 233.4 L247 227.3 L247.5 222.1 L247.7 221.4 L248 222.6 L248.5 225.4 L249 232.9 L249.3 230.4 L249.5 232.9 L250 224.1 L250.3 222.7 L251 215.4 L251.3 214.9 L251.5 214.7 L252 214.6 L252.5 217.2 L253 220.1 L253.3 218.4 L253.5 218 L254 218.2 L254.5 219.5 L254.6 219.1 L255 222.8 L255.5 225.5 L255.7 228.4 L256 219.1 L256.5 211.6 L256.6 211.6 L257 212.9 L257.5 220.3 L257.6 220.1 L258 214.1 L258.4 210.8 L260.2 210 L260.5 213.3 L261 226.9 L261.5 215.2 L261.8 211.8 L262 211.2 L262.5 210.9 L262.6 211.3 L263 215 L263.5 211.4 L264 216.6 L264.3 220.8 L264.5 216.6 L265 213.1 L265.1 209.9 L265.5 209.5 L266 210 L266.5 210.6 L266.8 209.9 L267 217.6 L267.5 247.9 L267.6 257.1 L268 221.3 L268.4 209.7 L268.5 211.1 L269 211.2 L269.2 208.9 L269.5 209.7 L270 209.1 L270.5 218.7 L270.8 231.3 L271 223.1 L271.6 207.4 L272.5 206.7 L272.8 207.1 L273 209.8 L273.5 225.9 L273.6 232.5 L274 230.7 L274.5 213.2 L275.3 222 L275.5 220.4 L276 212 L276.5 207.5 L277.2 203.7 L277.5 204.1 L277.7 203.7 L278 205.7 L278.5 210.5 L279 207.8 L279.3 201.3 L279.5 204.1 L280 201.2 L280.5 202.8 L281 200.9 L281.2 200.4 L281.5 200.5 L282 201.7 L282.5 202.5 L282.7 200.3 L283 205.6 L283.5 233.4 L284 206.6 L284.3 200.5 L284.5 200.5 L285 199.3 L285.1 199.7 L285.5 198.9 L286 199.1 L286.5 198.2 L287 199.1 L287.1 198.2 L287.5 197.9 L288 197.7 L288.5 197.6 L288.7 198 L289 206.2 L289.5 234.1 L290 208.9 L290.3 197.2 L290.5 196.6 L291 196.6 L291.5 196.1 L292 196.7 L292.5 199 L292.8 199.3 L293 198 L293.5 200.1 L294 195 L294.5 195.2 L294.6 193.9 L295 195 L295.5 195.6 L296 195.9 L296.4 197.1 L296.5 196.2 L297 196.9 L297.5 196.9 L298 194.4 L298.5 191.3 L299.5 189.2 L299.6 189.5 L300 189.6 L301 191.2 L301.3 190.7 L301.5 190.9 L302 190.3 L302.4 189.3 L302.5 188.8 L303.5 188.7 L304 190.1 L304.1 189.1 L304.5 195.2 L304.9 204.3 L305 200.1 L305.7 187.7 L306 190 L306.5 187.9 L307 186.8 L307.3 186.9 L308 203.9 L308.3 227.2 L308.5 211.9 L309.1 186.6 L309.5 185.8 L310 185.4 L310.2 185.7 L310.5 185.2 L311 187.4 L311.5 184.8 L311.9 185.2 L312 185 L312.5 185.7 L313 185.6 L313.1 185.4 L313.5 196.2 L313.9 217.2 L314 209 L314.5 189.5 L314.6 188 L315 187.6 L315.5 188.4 L316 200.6 L316.3 218.5 L316.5 206.1 L317 187.5 L317.1 186.2 L318 189.2 L318.2 185.5 L319 197.7 L319.5 208.1 L320 209.7 L320.5 212.5 L320.8 215.4 L321 207.3 L321.5 195.4 L322 188.4 L322.9 181.7 L323 181.2 L323.5 181.8 L324.3 192.3 L324.5 188.3 L325.2 181.5 L325.5 182.6 L326 182.3 L326.5 181.1 L327 181.6 L327.5 188.5 L327.8 197.4 L328 193.5 L328.5 186.6 L328.6 181.4 L328.9 181 L329 180.6 L329.5 180.8 L329.7 181.3 L330 190.9 L330.5 201.2 L331 185.8 L331.3 181.8 L331.5 181.2 L332 182 L332.5 183.9 L332.8 181.7 L333 184.7 L333.5 181.4 L333.7 182 L334 186.2 L334.5 202.8 L335 189.8 L335.4 184.8 L335.5 184.4 L335.7 185.3 L336.5 213.2 L337 188.8 L337.5 178.6 L338 180.1 L338.5 182.2 L338.9 179.1 L339 179.9 L339.5 179.5 L339.7 179.5 L340 185 L340.5 209 L341 186 L341.5 177.9 L342 187.6 L342.5 206.4 L343 188.8 L343.3 183.9 L343.5 184.2 L344 183.2 L344.5 183.8 L345 198.6 L345.3 220.3 L345.5 210.6 L346 198.8 L346.1 194.5 L346.4 193.8 L346.5 198.2 L347 207.1 L347.3 215.3 L347.5 210.1 L348 190.8 L348.1 189.6 L348.5 193.1 L349 192.8 L349.3 188.8 L350 207.5 L350.2 210.5 L350.5 191.7 L351 175.5 L351.5 174.4 L351.6 174.8 L352 179.8 L352.4 186.5 L353.3 174.7 L353.5 175.4 L354 174.4 L354.5 175.1 L355 192.8 L355.3 214.6 L355.5 197.8 L356.1 174.5 L356.5 173.6 L356.9 173.8 L357 174.3 L357.5 181.8 L357.7 187.4 L358.3 172.6 L358.5 172.5 L358.7 173.1 L359 179.8 L359.5 221.3 L360 187.1 L360.5 175.7 L360.9 176.2 L361 178 L361.5 198.5 L361.7 215.8 L362 191.5 L362.5 172.8 L363 174.5 L363.5 172.1 L364 181.5 L364.3 182.6 L364.5 178.7 L365 173.1 L365.2 171.9 L365.5 172 L366 174.2 L366.3 176.9 L366.5 176.2 L367 175.1 L367.1 171.9 L367.5 171.6 L367.8 171.9 L368 173.5 L368.5 181.4 L368.6 184.5 L369 177.8 L369.5 171.6 L370 171.9 L370.4 172 L371 189.3 L371.2 204.6 L371.5 187.8 L372 174.9 L372.2 172.5 L372.5 173.2 L372.7 172.9 L373.5 201.9 L374.3 172.3 L374.5 172.9 L375 173.9 L375.2 171.6 L375.5 172.2 L376 190.7 L376.3 218.4 L376.5 202.6 L377 173.2 L377.1 171.3 L377.5 173.3 L378 170.1 L378.4 171.1 L379 191.6 L379.2 208.4 L379.5 186.7 L380 172.4 L380.5 171.8 L381 171.4 L381.5 171.9 L381.8 172.3 L382 171.8 L382.5 173.4 L382.6 172.6 L383 183.6 L383.4 190 L384.2 171.5 L384.5 175.2 L385 170.9 L385.5 173.2 L385.8 170.8 L386 170.7 L386.5 172.8 L387 171.4 L387.5 172.7 L387.8 172.9 L388 176 L388.5 172.4 L389 171.3 L389.5 170.7 L390 171.3 L390.2 170.4 L390.5 178.6 L391 172.7 L391.5 174.3 L391.8 172.6 L392 172.1 L393 172.7 L393.4 173.6 L393.5 175 L394 192.8 L394.2 208.3 L394.5 188.9 L395 173.5 L396 172.6 L396.1 173.2 L396.5 173.3 L397 187.5 L397.5 230.6 L398 188.8 L398.4 175.3 L399 174.7 L399.5 174.7 L399.6 174.6 L400.5 174.9 L401 175.2 L401.3 175.5 L401.5 175.5 L402 176 L402.6 175.1 L403 175 L403.4 175.5 L404 187.5 L404.4 205.6 L404.5 199.9 L405 183.2 L405.4 176.7 L405.5 176.6 L406 175.6 L407 176.9 L407.4 177.6 L408 192.2 L408.4 216.4 L408.5 208.3 L409 186.1 L409.4 178.6 L409.5 178.4 L409.7 177.8 L410 177.5 L410.4 177.7 L410.5 178.8 L411.3 188.7 L412.2 178.6 L412.5 178.2 L413 177.7 L413.5 177.8 L413.9 177.5 L414 177.5 L415 179.6 L415.3 179.7 L415.5 179.5 L416 179.1 L416.5 179.1 L417 179.4 L417.7 179 L418 179.5 L418.5 181.8 L419 183.1 L419.2 183.4 L420 180.6 L420.5 180.1 L420.8 180.2 L421 180.8 L421.5 180.5 L421.6 180.6 L422 187.9 L422.5 210.8 L422.6 218.1 L423 195.9 L423.6 181.7 L423.9 180.5 L424 180.4 L424.5 180.4 L425 181.1 L425.2 181.1 L425.5 181.7 L425.6 181.7 L426 190 L426.5 217.5 L426.6 227.1 L427 199.3 L427.6 182.3 L427.9 181.6 L428.5 182.1 L429 182.1 L429.2 181.9 L429.5 182.2 L429.6 182.4 L430 197.3 L430.5 241.8 L431 199.7 L431.4 184.2 L431.9 183.1 L433 185.2 L433.6 186.8 L434.5 183.5 L435 184 L435.5 184.1 L436 184 L436.5 184.2 L437 184.9 L437.4 184.7 L438 185.1 L438.4 186.1 L439 210.9 L439.4 255.7 L439.5 242 L440 200.4 L440.4 188.1 L440.5 188 L441 186.9 L441.2 186.6 L442 186.3 L442.5 186.2 L443.5 187 L443.8 187.1 L444 187.2 L444.5 187.3 L445 187.5 L445.5 188.1 L445.8 188.2 L446.5 191.4 L447.4 197.8 L448.5 189.6 L449.5 190.6 L450 191.2 L450.5 191.4 L451 191.4 L451.5 191.7 L452.5 192.5 L453.5 192.7 L454 193.4 L454.5 193.5 L455 193.4 L455.5 193.7 L457 195.5 L457.3 195.5 L457.5 195.8 L458.5 199 L459.2 200.1 L459.5 210.5 L460 247.3 L460.5 212.9 L460.9 199.1 L461.5 198.6 L461.6 198.4 L462 198.3 L462.5 198.3 L463.3 199.1 L463.5 203.9 L464 225.1 L464.2 239.6 L464.5 243.2 L465.3 256 L465.5 241.8 L466 215.8 L466.6 200.3 L467 201.1 L467.5 201.4 L468 201.8 L468.5 202.3 L469 201.8 L469.5 201.7 L470 202.8 L470.5 203.4 L470.6 203.2 L471 202.9 L471.4 203.8 L471.5 208 L472 230 L472.3 251.1 L472.5 234.2 L473 209.7 L473.2 204.2 L473.5 204.6 L474 204.7 L474.5 205.9 L475 206.3 L475.5 206.2 L476 206.4 L476.5 206.2 L477 206.7 L477.5 208 L478 208.5 L479 209.1 L480 211.2 L480.5 211.8 L481.5 211.6 L482 212.5 L482.5 213.1 L483.5 214.1 L484.5 214.8 L485 214.8 L485.5 215.1 L486 216.1 L486.5 216.8 L486.8 216.8 L487 216.9 L487.4 217.2 L487.5 220.1 L488 234.8 L488.3 248.1 L488.5 239.9 L489 224.8 L489.2 220 L489.6 219.7 L490 220.6 L490.5 221.3 L491.5 221.9 L492 222.8 L492.5 223.5 L493 223.8 L493.5 224.2 L494 225.1 L494.5 225.4 L495 226.1 L495.5 227.2 L496 227.1 L496.5 227.6 L497 228.7 L498 229.9 L499 230.8 L500 232.2 L500.5 233.1 L500.8 233.5 L501.6 238.2 L502.5 235.1 L516.5 257.7 L526.5 276.9 L532 285.9 L537 292.6 L537 293.7 Z" fill="#ffd700" stroke="#000" stroke-width="0.7" stroke-linejoin="round" />
<path d="M46.5 293.7 L46.5 284.9 L218.5 284.9 L265.1 282.5 L274 282.6 L284.5 281.1 L306 278.9 L307.5 279 L309.5 279.4 L315 279.7 L321.5 279.1 L323.5 278.7 L325.5 278.5 L330 277.8 L334.5 277.6 L336 277.4 L340 277.5 L343 277.5 L345.5 277.8 L347.5 277.6 L352.5 276 L357 275.4 L362 275.3 L364.5 275.1 L365.5 275.1 L367.5 274.7 L369 274.5 L370.5 274.2 L381 272.7 L383 272.6 L386 272.2 L386.5 272.1 L387.5 272 L395 272.6 L399 273.2 L402 272.9 L405.5 272.3 L410.5 271.9 L414.5 272.4 L416 272.4 L423 273.2 L433 272.9 L436 272.7 L437 272.8 L438 273.1 L439.5 273.8 L440.5 274.1 L441.5 274.1 L445.5 273.1 L449 273 L450.5 273 L452 272.8 L458 272.9 L461 273.4 L464.5 274 L473.5 274 L478 274.4 L482.5 274.4 L490.5 274.8 L496.5 275.5 L502 275.9 L668.5 283.3 L670.5 283.3 L670.5 293.7 Z" fill="#b4bfbf" stroke="#303030" stroke-width="0.6" stroke-linejoin="round" />
<path d="M177.9 293.7 L177.9 292.9 L183 286.5 L183.5 286.2 L271 282.5 L274 282.6 L284.5 281.1 L306 278.9 L307.5 279 L309.5 279.4 L315 279.7 L321.5 279.1 L323.5 278.7 L325.5 278.5 L330 277.8 L334.5 277.6 L336 277.4 L340 277.5 L343 277.5 L345.5 277.8 L347.5 277.6 L352.5 276 L357 275.4 L362 275.3 L364.5 275.1 L365.5 275.1 L367.5 274.7 L369 274.5 L370.5 274.2 L381 272.7 L383 272.6 L386 272.2 L386.5 272.1 L387.5 272 L395 272.6 L399 273.2 L402 272.9 L405.5 272.3 L410.5 271.9 L414.5 272.4 L416 272.4 L423 273.2 L433 272.9 L436 272.7 L437 272.8 L438 273.1 L439.5 273.8 L440.5 274.1 L441.5 274.1 L445.5 273.1 L449 273 L450.5 273 L452 272.8 L458 272.9 L461 273.4 L464.5 274 L473.5 274 L478 274.4 L482.5 274.4 L490.5 274.8 L496.5 275.5 L502 275.9 L527.5 278.6 L532 285.9 L537 292.6 L537 293.7 Z" fill="#c8c396" stroke="#3a3a30" stroke-width="0.5" stroke-linejoin="round" />
<path d="M177.9 293.7 L177.9 293.6 L209 287.7 L209.5 288.8 L209.8 289.9 L211.2 290.8 L211.5 288.7 L212 286.4 L212.5 286.2 L245 281.2 L245.6 281.1 L246 281.6 L246.5 282.7 L247 281.6 L247.5 280.9 L247.7 280.8 L248 281 L248.5 281.3 L249 282.5 L249.3 282.1 L249.5 282.5 L250 281.1 L250.3 280.9 L251 280 L252 279.8 L252.5 280 L253 280.4 L253.3 280.2 L253.5 280.2 L254 280.2 L254.5 280.4 L254.6 280.3 L255 280.8 L255.5 281.2 L255.7 281.7 L256 280.3 L256.5 279.4 L257 279.6 L257.5 280.4 L257.6 280.4 L258 279.7 L258.4 279.3 L260.2 279.2 L260.5 279.5 L261 281.4 L261.5 279.7 L261.8 279.3 L262.5 279.2 L263 279.6 L263.5 279.2 L264 279.8 L264.3 280.4 L264.5 279.8 L265 279.4 L265.1 279.1 L265.5 279 L266.5 279.1 L266.8 279 L267 279.9 L267.5 285.6 L267.6 287.4 L268 280.4 L268.4 279 L268.5 279.1 L269 279.1 L269.2 278.9 L269.5 278.9 L270 278.9 L270.5 280 L270.8 282.2 L271 280.7 L271.5 278.8 L271.6 278.7 L272.5 278.6 L272.8 278.6 L273 278.9 L273.5 281.2 L273.6 282.5 L274 282.1 L274.5 279.3 L275 280 L275.3 280.5 L275.5 280.3 L276 279.1 L276.5 278.6 L277.2 278.2 L277.7 278.2 L278 278.4 L278.5 278.9 L279 278.6 L279.3 278 L279.5 278.2 L280 277.9 L280.5 278.1 L281.2 277.9 L282.5 278 L282.7 277.8 L283 278.3 L283.5 282.8 L284 278.4 L284.3 277.8 L285.5 277.6 L286 277.7 L286.5 277.6 L287 277.6 L287.1 277.6 L288.7 277.5 L289 278.3 L289.5 283 L290 278.6 L290.3 277.4 L291.5 277.3 L292 277.4 L292.5 277.5 L292.8 277.6 L293 277.5 L293.5 277.6 L294 277.2 L294.5 277.2 L294.6 277.1 L296 277.2 L296.4 277.3 L296.5 277.2 L297.5 277.3 L298.5 276.8 L299.6 276.7 L301 276.8 L302.5 276.6 L303.5 276.6 L304 276.7 L304.1 276.7 L304.5 277.1 L304.9 278.1 L305 277.6 L305.7 276.5 L306 276.7 L307 276.5 L307.3 276.5 L307.5 276.8 L308 278.1 L308.3 281.9 L308.5 279.2 L309 276.7 L309.1 276.4 L310.5 276.3 L311 276.5 L311.5 276.3 L313.1 276.3 L313.5 277.2 L313.9 280.1 L314 278.7 L314.5 276.6 L314.6 276.5 L315 276.5 L315.5 276.5 L316 277.7 L316.3 280.3 L316.5 278.3 L317 276.4 L317.1 276.3 L318 276.5 L318.2 276.3 L319 277.3 L319.5 278.6 L320 278.8 L320.5 279.3 L320.8 279.8 L321 278.5 L321.5 277.1 L322 276.4 L323 275.9 L323.5 275.9 L324.3 276.7 L324.5 276.4 L325.2 275.9 L325.5 275.9 L326.5 275.8 L327 275.8 L327.5 276.3 L327.8 277.2 L328 276.8 L328.5 276.2 L328.6 275.8 L329.7 275.8 L330.5 277.6 L331 276.1 L331.3 275.8 L332 275.8 L332.5 275.9 L332.8 275.7 L333 275.9 L333.5 275.7 L333.7 275.7 L334 276 L334.5 277.8 L335 276.3 L335.4 275.9 L335.5 275.9 L335.7 275.9 L336 277 L336.5 279.3 L337 276.2 L337.5 275.4 L338.5 275.6 L338.9 275.4 L339 275.5 L339.7 275.4 L340 275.8 L340.5 278.6 L341 275.9 L341.5 275.3 L342 276 L342.5 278.2 L343 276.1 L343.3 275.7 L343.5 275.7 L344 275.6 L344.5 275.6 L345 277.1 L345.3 280.6 L345.5 278.9 L346.1 276.6 L346.4 276.5 L346.5 277 L347 278.3 L347.3 279.7 L348 276.1 L348.1 276 L348.5 276.3 L349 276.3 L349.3 275.9 L350 278.3 L350.2 278.8 L350.5 276.1 L351 274.7 L351.6 274.6 L352 274.9 L352.4 275.5 L353 274.8 L353.3 274.5 L353.5 274.5 L354 274.4 L354.5 274.5 L355 276.1 L355.3 279.5 L355.5 276.7 L356.1 274.3 L357 274.3 L357.5 274.8 L357.7 275.3 L358 274.6 L358.3 274 L358.7 274.1 L359 274.6 L359.5 280.7 L360 275.2 L360.5 274.1 L360.9 274.2 L361 274.3 L361.5 276.6 L361.7 279.6 L362 275.6 L362.5 273.8 L363 273.9 L363.5 273.7 L364 274.5 L364.3 274.5 L364.5 274.2 L365 273.7 L365.2 273.6 L365.5 273.6 L366 273.7 L366.3 273.9 L367 273.7 L367.1 273.5 L367.8 273.4 L368 273.5 L368.5 274.2 L368.6 274.5 L369 273.8 L369.5 273.3 L370.4 273.3 L371 275 L371.2 277.4 L371.5 274.8 L372 273.4 L372.2 273.2 L372.7 273.2 L373 274.3 L373.5 276.9 L374 274 L374.3 273 L375 273.1 L375.2 272.9 L375.5 272.9 L376 275 L376.3 280 L376.5 276.9 L377 272.9 L377.1 272.8 L377.5 272.9 L378 272.6 L378.4 272.7 L379 275 L379.2 278 L379.5 274.3 L380 272.7 L381 272.5 L381.8 272.6 L382 272.5 L382.5 272.6 L382.6 272.5 L383 273.7 L383.4 274.6 L384.2 272.3 L384.5 272.7 L385 272.2 L385.5 272.4 L385.8 272.2 L386 272.1 L386.5 272.3 L387 272.1 L387.8 272.2 L388 272.5 L388.5 272.2 L389.5 272 L390 272 L390.2 272 L390.5 272.8 L391 272.2 L391.5 272.3 L392 272.1 L393 272.1 L393.4 272.1 L393.5 272.3 L394 274.7 L394.2 277.7 L394.5 274 L395 272.1 L396 271.9 L396.1 272 L396.5 272 L397 273.7 L397.5 282.4 L398 273.9 L398.4 272.1 L402 272.1 L403 271.9 L403.4 271.9 L404 273.5 L404.4 276.8 L404.5 275.6 L405 272.8 L405.4 272 L406 271.9 L407.4 272 L408 274.1 L408.4 279.1 L408.5 277.3 L409 273.1 L409.4 272.1 L410 271.9 L410.4 271.9 L410.5 272 L411 272.8 L411.3 273.4 L411.5 273 L412.2 271.9 L414 271.7 L415 271.9 L416.5 271.8 L417 271.8 L417.7 271.7 L418 271.8 L418.5 272.1 L419.2 272.3 L420 271.9 L420.8 271.8 L421 271.9 L421.6 271.9 L422 273 L422.5 277.7 L422.6 279.4 L423 274.5 L423.6 272.1 L424 272 L424.5 272 L425.6 272.2 L426 273.5 L426.5 279.3 L426.6 281.4 L427 275.3 L427.6 272.4 L428 272.3 L429.6 272.5 L430 274.9 L430.5 284.6 L431 275.4 L431.4 272.8 L432 272.7 L433 273 L433.6 273.2 L434.5 272.8 L436.5 273 L437 273.1 L438 273.2 L438.4 273.4 L439 278 L439.4 287.3 L440 275.8 L440.4 273.8 L441.5 273.7 L442.5 273.7 L445 273.9 L445.8 274.1 L446.5 274.5 L447.4 275.6 L448 274.8 L448.5 274.3 L450.5 274.6 L454.5 275 L457.5 275.4 L458.5 275.9 L459.2 276.1 L459.5 277.9 L460 285.7 L460.5 278.4 L460.9 276 L462 275.9 L463.3 276.2 L463.5 276.9 L464 281.1 L464.2 284.2 L465.3 287.4 L466 279.2 L466.5 276.8 L466.6 276.6 L467 276.7 L468.6 277 L469.5 277 L470.5 277.3 L471 277.3 L471.4 277.5 L471.5 278.1 L472 282.4 L472.3 286.6 L472.5 283.3 L473 278.5 L473.2 277.7 L474 277.8 L474.5 278 L476 278.1 L476.5 278.1 L477 278.2 L477.5 278.4 L479 278.6 L480 278.9 L480.5 279 L481.5 279 L484.5 279.6 L485.5 279.6 L486.5 279.9 L487.4 280 L487.5 280.5 L488 283.3 L488.3 285.9 L488.5 284.3 L489 281.3 L489.2 280.4 L489.6 280.3 L490.5 280.6 L491.5 280.7 L492.5 281 L493.5 281.1 L494 281.2 L495 281.4 L495.5 281.6 L496 281.6 L496.5 281.6 L497.5 281.9 L500 282.4 L500.8 282.6 L501.6 283.6 L502.5 282.9 L520 286.9 L530 290.4 L537 293.5 L537 293.7 Z" fill="#6495ed" stroke="#000" stroke-width="0.6" stroke-linejoin="round" />
<path d="M176.5 446 L176.5 443.7 L203 441.3 L206.5 440.8 L208.5 440.6 L209.5 440.4 L210 440.4 L212 440 L216.5 439.5 L219.5 439.1 L220.5 438.9 L221.5 438.8 L222.5 438.6 L223.5 438.6 L224.5 438.3 L225.5 438.3 L228.5 437.9 L230 437.8 L231 437.7 L232 437.7 L233 437.5 L233.5 437.6 L234 437.6 L235.5 437.4 L237 437.3 L238 437.4 L239 437.2 L239.5 437.2 L240.5 437.2 L242 437.1 L243 436.9 L243.5 437 L244 437 L244.5 436.8 L245.5 436.8 L245.6 436.8 L246.5 436.8 L247 436.8 L247.5 436.6 L248 436.7 L250 436.6 L250.3 436.7 L251.3 435.7 L251.5 435.6 L252 435.1 L252.5 434.8 L253 434.7 L253.3 434.3 L254 434.5 L254.5 434.4 L254.6 434.6 L255 434.8 L255.5 434.8 L256 435.4 L257 434.8 L257.5 433.9 L257.6 433.4 L258 432.8 L258.4 432.7 L258.5 432.4 L259 431.8 L259.5 431.6 L260 432.6 L260.2 432.6 L260.5 432.3 L261 432.6 L261.5 433 L261.8 432.8 L262 432.9 L262.5 433.5 L262.6 433.2 L263 433.1 L263.5 433.8 L264 434.4 L264.3 434.3 L264.5 433.8 L265 433.7 L265.5 433.2 L266.5 434 L267 433.7 L267.5 434.2 L267.6 434.3 L268 433.6 L268.4 434.2 L269 433.4 L269.2 433.5 L270 433.6 L270.5 433.5 L270.8 433.4 L271 432.8 L271.5 433 L271.6 433.2 L272 432.5 L272.5 432.3 L272.8 432 L273 432.1 L273.5 432.6 L273.6 432.9 L274 432.4 L274.5 432 L275 432.4 L275.3 432.3 L275.5 432.6 L276 433.2 L276.5 432.5 L277 432.9 L277.2 433.3 L277.5 433 L277.7 433.3 L278 432.8 L278.5 432.3 L279 432.4 L279.3 431.7 L279.5 430.6 L280 430.6 L280.5 430.7 L281 430.9 L281.2 431.1 L281.5 430.4 L282 430.3 L282.7 429.6 L283 430.2 L283.5 430.9 L284.5 431.4 L285 430.7 L285.1 430.2 L285.5 429.8 L286 429.7 L287 428.3 L287.1 428.9 L287.5 427.8 L288 427.6 L288.5 429 L288.7 429.1 L289 429 L289.5 429.8 L290 430.9 L290.3 430.8 L290.5 430.1 L291 429.1 L291.5 428.4 L292 428.5 L292.5 427.9 L292.8 427.4 L293 428 L294 426.7 L294.5 426.6 L294.6 426.8 L295 426.1 L295.5 425.5 L296 425.3 L296.4 424.8 L296.5 424.3 L297.5 423.4 L298 422.6 L298.5 422 L299 422 L299.6 421.6 L300 420.9 L300.5 419.9 L301 420.9 L301.3 421.1 L301.5 421 L302 421.9 L302.4 422 L302.5 421.6 L303 421.7 L303.5 422.1 L304.1 422.2 L304.5 421.9 L304.9 421.3 L305 421.1 L305.5 421 L305.7 421.4 L306 421.7 L307 422.5 L307.3 422.9 L307.5 423.6 L308 422.2 L308.3 420.9 L308.5 420.7 L309 419.8 L309.1 419.2 L309.5 417.6 L310.2 415.6 L311 415.8 L311.5 415.7 L311.9 415 L312 414.2 L312.5 413.5 L313 414.3 L313.1 414.4 L313.9 416.3 L314 417.2 L314.5 418.9 L314.6 418.8 L315.5 419.7 L316 420 L316.5 421.9 L317 422.2 L317.1 422.2 L317.5 422.8 L318 423.2 L318.2 422.9 L318.5 424 L319 424 L319.5 423.1 L320 422.9 L320.5 422.9 L320.8 422.7 L321 422.1 L321.5 421.7 L322 421.7 L322.5 421 L322.9 419.5 L323 419.5 L324 417.5 L324.3 416.8 L324.5 416 L325 415 L326 414 L326.5 412.8 L327 412.3 L327.5 412.4 L327.8 412.1 L328 412.1 L328.5 411.6 L328.6 411.6 L329 411.1 L329.5 410.2 L329.7 409 L330 408.6 L330.5 409.3 L331 408.8 L331.3 407.6 L331.5 407.4 L332 406.7 L332.5 406.6 L333 407.9 L333.7 408.1 L334 408.5 L334.5 408.6 L335.4 409.8 L335.5 409.8 L335.7 410.2 L336 410.4 L336.5 411 L337 411.1 L337.5 410.9 L338 410.9 L338.5 411.4 L338.9 411 L339 410.6 L339.7 409.9 L340 409.7 L341.5 407.8 L342 406.8 L342.5 407.2 L343 408.4 L343.3 408.4 L343.5 408.5 L344 409.2 L344.5 409.2 L345.3 410.4 L345.5 410.5 L346 412.2 L346.1 412.2 L346.5 413.4 L347 414.4 L347.3 415.1 L348.1 416.2 L348.5 415.3 L349 413.6 L349.3 412.9 L350 410.6 L350.2 410.2 L350.5 409.7 L351 408.1 L351.5 406.1 L351.6 405.4 L353.3 398 L353.5 398.5 L354.5 401.4 L355.3 405.1 L355.5 405.2 L357 399.8 L357.7 396.5 L358 396.1 L358.3 395.3 L358.5 394.3 L358.7 394.9 L359.5 398.5 L360 400.2 L360.5 402.6 L360.9 402.4 L361 402 L361.5 401.1 L361.7 400.2 L362 400.4 L362.5 400.9 L363.5 398.6 L364 397.9 L364.3 397 L365 394.5 L365.2 393.6 L366 391.7 L366.3 390.5 L366.5 389 L367 388.4 L367.1 389.3 L367.5 390.4 L368 392.8 L368.6 394.3 L369 394.9 L369.5 395 L370 395.3 L370.4 395.4 L370.5 395.1 L371 396.1 L371.2 397.1 L371.5 396 L372 394.8 L372.2 394.6 L372.5 394 L372.7 393.4 L373 393 L373.5 392 L374 390.2 L374.3 389.7 L374.5 389 L375 388.2 L375.2 388.2 L375.5 387.8 L376 387.7 L376.5 387.5 L377 389.2 L377.1 389.8 L377.5 391.1 L377.9 392 L378 392.2 L378.5 389.9 L379 387.3 L379.5 383.9 L380 383.9 L380.5 386 L381 387.6 L381.5 388.4 L382 384.4 L383 378.1 L383.4 379 L383.5 378.7 L384 379.1 L384.5 380.2 L385.5 381.6 L385.8 381 L386 380.2 L387.5 372.1 L387.8 371.5 L388 371.7 L389 370.7 L389.5 370 L390 370.2 L390.2 370.1 L390.5 370.2 L391.5 373.9 L391.8 374.1 L392 374.4 L392.5 376.1 L393.4 377.7 L393.5 378.4 L394 380.1 L394.2 381 L394.5 381.7 L395.5 380.6 L396 380.5 L396.5 382.9 L396.6 383.7 L398.5 388.1 L399 386.6 L399.5 385.7 L399.6 384.9 L400 383.2 L401 381.1 L401.3 379.9 L401.5 378.7 L402 377.3 L402.5 376.4 L402.6 376.3 L403 377 L403.5 379.3 L404.4 381.1 L404.5 381.5 L405 382.2 L405.4 382.5 L405.5 382.4 L406 381.6 L408 367.4 L408.5 371.2 L409.7 384.2 L410 383.7 L411 381.1 L411.3 380.7 L412 378.9 L412.2 378 L412.5 376.5 L412.9 375.3 L413 375.3 L413.5 373.6 L413.9 371.8 L414 371 L414.5 370 L415 371 L416 371.9 L416.5 372.8 L417 373.5 L417.5 373.5 L417.7 373.4 L418 372.6 L418.5 372.6 L419 372.8 L419.2 372.5 L419.5 371.6 L420 372.4 L420.5 374.3 L421 375.4 L421.5 376.7 L421.6 376.9 L422 377.2 L422.5 378.8 L422.6 379.4 L423 380.5 L423.5 381.4 L423.6 381.3 L424 383.5 L424.5 384.3 L425.2 380.9 L426 375.5 L426.5 374.2 L426.6 374.3 L427 376.5 L427.5 380 L428 382.4 L428.5 378.8 L430 370.3 L430.5 373.9 L431.4 379.3 L431.5 380.1 L431.9 382.6 L432 382.6 L432.5 383.2 L433 382.5 L433.5 381.1 L433.6 381.1 L434.5 379 L435 377 L436 372.2 L436.5 372.4 L437.5 374.7 L438 375.3 L438.4 377.7 L440.5 392.1 L441 391.9 L441.2 391 L442 388.1 L443 383.4 L443.5 381.5 L443.8 381.7 L444 381.6 L444.5 379.6 L445 378.5 L445.5 378 L445.8 377.1 L446 377.2 L447 378 L447.4 378.4 L447.5 378.4 L448 379 L448.5 379 L449 378.5 L449.5 378.2 L450 377.2 L450.5 377.9 L451.5 380.1 L452 379.9 L452.5 377.8 L453 375.1 L453.5 374 L454 373.6 L454.5 374.3 L455.8 380.7 L456 382.3 L456.5 383.7 L457 384.1 L457.3 385.2 L457.5 384.7 L458 384.9 L458.5 385.4 L459.2 386.8 L459.5 386.9 L460.5 388.6 L460.9 389.1 L461 389.5 L461.5 388.8 L461.6 388.6 L462 388.2 L462.5 387.5 L463 386.5 L463.3 386.2 L463.5 386.3 L464 388.2 L464.5 389.6 L465 391.8 L465.3 392.7 L465.5 394 L466 396.1 L466.6 394.8 L467 393.1 L468.5 388.6 L468.6 388.8 L469 388.7 L469.5 387.3 L470 387.2 L470.5 387.3 L470.6 387 L471 386.9 L471.4 387.3 L471.5 387.3 L472 388.5 L472.5 389.4 L473 390.7 L473.2 391.4 L473.5 392.3 L474 392.5 L474.5 393 L475 392.8 L475.5 392.9 L476 394 L476.5 393.6 L478 391.7 L478.5 390.9 L478.6 391 L479 391.1 L480 391.9 L480.5 391.9 L481 392.2 L481.5 392.9 L482 393.2 L482.5 393.3 L483 393.8 L484 395.1 L484.5 395.5 L485 395.4 L485.5 395.7 L486 395.7 L486.8 396 L487 396 L487.5 396.8 L488 397 L488.3 396.8 L488.5 396.5 L489 396.8 L489.2 397.3 L489.5 397.2 L489.6 397.3 L490 397.6 L490.5 397.3 L491 397.6 L491.5 398.6 L491.8 398.9 L492 398.9 L492.5 399.2 L493.5 398.9 L494.5 399.8 L495.5 400 L496.5 400.9 L497 400.7 L497.2 400.4 L497.5 400.7 L498 400.9 L498.5 400.8 L499.5 401.9 L499.8 401.6 L500 401.3 L500.5 401.7 L501.5 402.6 L501.6 402.6 L503 403.3 L503.5 403.4 L504 403.8 L505.1 405 L505.5 404.7 L506.5 405.6 L507 405.6 L507.5 406 L508 406.7 L509 406.8 L509.5 407.2 L510.5 407.5 L511.5 408.1 L512 408.5 L512.5 408.5 L513 408.7 L513.5 409.2 L514 409.5 L514.5 409.7 L515 409.8 L516 410.3 L520 412.2 L521 413 L522 413.3 L523 413.9 L524.5 414.5 L525 414.8 L526 415.1 L529 416.8 L530 417.1 L530.5 417.3 L531.5 417.9 L532.5 418.2 L533.5 418.8 L534 418.8 L535 419.6 L537.5 420.7 L538.5 421.1 L538.5 446 Z" fill="#ffd700" stroke="#000" stroke-width="0.6" stroke-linejoin="round" />
<path d="M176.5 446 L176.5 444 L203 441.7 L206.5 441.1 L208.5 440.9 L209.5 440.7 L210 440.7 L212 440.4 L216.5 439.8 L219.5 439.5 L220.5 439.3 L221.5 439.1 L222.5 438.9 L223.5 438.9 L224.5 438.7 L225.5 438.7 L228.5 438.2 L230 438.2 L231 438 L232 438 L233 437.9 L233.5 438 L234 438 L235.5 437.7 L237 437.7 L238 437.7 L239 437.5 L239.5 437.6 L240.5 437.5 L242 437.4 L243 437.3 L243.5 437.3 L244 437.3 L244.5 437.2 L245.5 437.2 L245.6 437.1 L246.5 437.2 L247 437.1 L247.5 437 L248 437.1 L250 437 L250.3 437.1 L251.3 436 L251.5 435.9 L252 435.5 L252.5 435.2 L253 435.1 L253.3 434.7 L254 434.8 L254.5 434.7 L254.6 435 L255 435.1 L255.5 435.2 L256 435.7 L257 435.1 L257.5 434.3 L257.6 433.8 L258 433.1 L258.4 433 L258.5 432.8 L259 432.2 L259.5 432 L260 432.9 L260.2 432.9 L260.5 432.7 L261 433 L261.5 433.4 L261.8 433.2 L262 433.2 L262.5 433.8 L262.6 433.5 L263 433.4 L263.5 434.2 L264 434.8 L264.3 434.6 L264.5 434.2 L265 434.1 L265.5 433.6 L266.5 434.4 L267 434.1 L267.5 434.5 L267.6 434.7 L268 434 L268.4 434.6 L269 433.7 L269.2 433.9 L270 434 L270.5 433.9 L270.8 433.8 L271 433.2 L271.5 433.4 L271.6 433.6 L272 432.9 L272.5 432.7 L272.8 432.4 L273 432.5 L273.5 433 L273.6 433.3 L274 432.7 L274.5 432.4 L275 432.8 L275.3 432.6 L275.5 433 L276 433.5 L276.5 432.9 L277 433.3 L277.2 433.7 L277.5 433.3 L277.7 433.6 L278 433.2 L278.5 432.7 L279 432.8 L279.3 432.1 L279.5 431 L280 431 L280.5 431 L281 431.3 L281.2 431.5 L281.5 430.8 L282 430.7 L282.7 430 L283 430.6 L283.5 431.3 L284.5 431.8 L285 431 L285.1 430.6 L285.5 430.1 L286 430.1 L287 428.6 L287.1 429.3 L287.5 428.2 L288 428 L288.5 429.4 L288.7 429.5 L289 429.4 L289.5 430.2 L290 431.3 L290.3 431.2 L290.5 430.5 L291 429.5 L291.5 428.8 L292 428.9 L292.5 428.3 L292.8 427.8 L293 428.4 L294 427.1 L294.5 427 L294.6 427.2 L295 426.5 L295.5 425.9 L296 425.7 L296.4 425.2 L296.5 424.7 L297.5 423.8 L298 423 L298.5 422.4 L299 422.4 L299.6 422 L300 421.3 L300.5 420.3 L301 421.3 L301.3 421.5 L301.5 421.4 L302 422.3 L302.4 422.4 L302.5 422 L303 422.1 L303.5 422.5 L304.1 422.6 L304.5 422.3 L304.9 421.8 L305 421.5 L305.5 421.4 L305.7 421.8 L306 422.1 L307 422.9 L307.3 423.4 L307.5 424 L308 422.6 L308.3 421.3 L308.5 421.1 L309 420.3 L309.1 419.6 L309.5 418.1 L310.2 416.1 L311 416.3 L311.5 416.1 L311.9 415.5 L312 414.7 L312.5 414 L313 414.8 L313.1 414.9 L313.9 416.8 L314 417.7 L314.5 419.4 L314.6 419.3 L315.5 420.2 L316 420.5 L316.5 422.4 L317 422.7 L317.1 422.6 L317.5 423.3 L318 423.6 L318.2 423.4 L318.5 424.5 L319 424.5 L319.5 423.6 L320 423.4 L320.5 423.4 L320.8 423.2 L321 422.6 L321.5 422.2 L322 422.2 L322.5 421.6 L322.9 420 L323 420 L324 418 L324.3 417.3 L324.5 416.5 L325 415.5 L326 414.5 L326.5 413.3 L327 412.9 L327.5 412.9 L327.8 412.6 L328 412.6 L328.5 412.1 L328.6 412.2 L329 411.7 L329.5 410.8 L329.7 409.5 L330 409.2 L330.5 409.8 L331 409.3 L331.3 408.1 L331.5 408 L332 407.2 L332.5 407.2 L333 408.5 L333.7 408.6 L334 409 L334.5 409.1 L335.4 410.4 L335.5 410.4 L335.7 410.8 L336 411 L336.5 411.6 L337 411.7 L337.5 411.5 L338 411.5 L338.5 412 L338.9 411.5 L339 411.2 L339.7 410.5 L340 410.3 L341.5 408.4 L342 407.4 L342.5 407.8 L343 409 L343.3 409 L343.5 409.1 L344 409.9 L344.5 409.9 L345.3 411 L345.5 411.1 L346 412.9 L346.1 412.8 L346.5 414 L347 415 L347.3 415.8 L348.1 416.8 L348.5 415.9 L349 414.3 L349.3 413.6 L350 411.3 L350.2 410.8 L350.5 410.4 L351 408.8 L351.5 406.7 L351.6 406.1 L353.3 398.7 L353.5 399.1 L354.5 402.1 L355.3 405.8 L355.5 405.8 L357 400.5 L357.7 397.2 L358 396.8 L358.3 396 L358.5 395 L358.7 395.6 L359.5 399.2 L360 400.9 L360.5 403.3 L360.9 403.1 L361 402.7 L361.5 401.9 L361.7 400.9 L362 401.1 L362.5 401.6 L363.5 399.3 L364 398.6 L364.3 397.8 L365 395.3 L365.2 394.3 L366 392.4 L366.3 391.2 L366.5 389.8 L367 389.1 L367.1 390 L367.5 391.1 L368 393.5 L368.6 395.1 L369 395.6 L369.5 395.7 L370 396.1 L370.4 396.2 L370.5 395.9 L371 396.9 L371.2 397.8 L371.5 396.8 L372 395.5 L372.2 395.4 L372.5 394.8 L372.7 394.2 L373 393.7 L373.5 392.7 L374 391 L374.3 390.4 L374.5 389.7 L375 388.9 L375.2 389 L375.5 388.5 L376 388.5 L376.5 388.3 L377 390 L377.1 390.5 L377.5 391.9 L377.9 392.8 L378 392.9 L378.5 390.7 L379 388 L379.5 384.7 L380 384.7 L380.5 386.8 L381 388.5 L381.5 389.2 L382 385.3 L383 378.9 L383.4 379.8 L383.5 379.5 L384 380 L384.5 381 L385.5 382.5 L385.8 381.8 L386 381 L387.5 373 L387.8 372.4 L388 372.6 L389 371.6 L389.5 370.9 L390 371.1 L390.2 371 L390.5 371.1 L391.5 374.8 L391.8 375 L392 375.4 L392.5 377 L393.4 378.7 L393.5 379.4 L394 381 L394.2 381.9 L394.5 382.7 L395.5 381.5 L396 381.5 L396.5 383.9 L396.6 384.6 L398.5 389.1 L399 387.6 L399.5 386.7 L399.6 385.9 L400 384.2 L401 382.1 L401.3 380.9 L401.5 379.7 L402 378.4 L402.5 377.4 L402.6 377.3 L403 378 L403.5 380.3 L404.4 382.1 L404.5 382.5 L405 383.3 L405.4 383.6 L405.5 383.5 L406 382.6 L408 368.5 L408.5 372.3 L409.7 385.3 L410 384.8 L411 382.2 L411.3 381.8 L412 380 L412.2 379.1 L412.5 377.7 L412.9 376.4 L413 376.4 L413.5 374.7 L413.9 372.9 L414 372.2 L414.5 371.2 L415 372.2 L416 373.1 L416.5 374 L417 374.7 L417.5 374.6 L417.7 374.6 L418 373.8 L418.5 373.8 L419 374 L419.2 373.7 L419.5 372.8 L420 373.6 L420.5 375.5 L421 376.6 L421.5 377.9 L421.6 378.1 L422 378.5 L422.5 380.1 L422.6 380.7 L423 381.7 L423.5 382.6 L423.6 382.5 L424 384.8 L424.5 385.6 L425.2 382.2 L426 376.8 L426.5 375.5 L426.6 375.5 L427 377.7 L427.5 381.2 L428 383.6 L428.5 380.1 L430 371.6 L430.5 375.2 L431.4 380.6 L431.5 381.4 L431.9 383.9 L432 383.9 L432.5 384.5 L433 383.8 L433.5 382.5 L433.6 382.5 L434.5 380.3 L435 378.4 L436 373.5 L436.5 373.7 L437.5 376 L438 376.7 L438.4 379.1 L440.5 393.5 L441 393.3 L441.2 392.4 L442 389.5 L443 384.9 L443.5 383 L443.8 383.2 L444 383.1 L444.5 381.1 L445 380.1 L445.5 379.5 L445.8 378.7 L446 378.7 L447 379.6 L447.4 380 L447.5 380 L448 380.6 L448.5 380.7 L449 380.2 L449.5 379.9 L450 378.9 L450.5 379.6 L451.5 381.8 L452 381.6 L452.5 379.5 L453 376.9 L453.5 375.7 L454 375.4 L454.5 376.1 L455.8 382.5 L456 384.1 L456.5 385.5 L457 386 L457.3 387 L457.5 386.6 L458 386.8 L458.5 387.3 L459.2 388.7 L459.5 388.8 L460.5 390.5 L460.9 391.1 L461 391.5 L461.5 390.8 L461.6 390.6 L462 390.2 L462.5 389.5 L463 388.5 L463.3 388.2 L463.5 388.3 L464 390.2 L464.5 391.7 L465 393.9 L465.3 394.7 L465.5 396.1 L466 398.2 L466.6 396.9 L467 395.3 L468.5 390.7 L468.6 391 L469 390.8 L469.5 389.5 L470 389.4 L470.5 389.5 L470.6 389.2 L471 389.1 L471.4 389.4 L471.5 389.5 L472 390.7 L472.5 391.6 L473 392.9 L473.2 393.6 L473.5 394.5 L474 394.6 L474.5 395.1 L475 394.9 L475.5 395.1 L476 396.2 L476.5 395.8 L478 393.9 L478.5 393.1 L478.6 393.2 L479 393.3 L480 394.1 L480.5 394.1 L481 394.4 L481.5 395.1 L482 395.4 L482.5 395.4 L483 395.9 L484 397.3 L484.5 397.7 L485 397.6 L485.5 397.8 L486 397.8 L486.8 398.1 L487 398.1 L487.5 398.9 L488 399.2 L488.3 399 L488.5 398.6 L489 398.9 L489.2 399.5 L489.5 399.4 L489.6 399.4 L490 399.8 L490.5 399.4 L491 399.8 L491.5 400.8 L491.8 401.1 L492 401.1 L492.5 401.3 L493.5 401.1 L494.5 401.9 L495.5 402.2 L496.5 403 L497 402.8 L497.2 402.5 L497.5 402.8 L498 403.1 L498.5 402.9 L499.5 404 L499.8 403.8 L500 403.5 L500.5 403.8 L501.5 404.7 L501.6 404.7 L503 405.5 L503.5 405.6 L504 406 L505.1 407.1 L505.5 406.8 L506.5 407.8 L507 407.8 L507.5 408.1 L508 408.9 L509 409 L509.5 409.3 L510.5 409.6 L511.5 410.2 L512 410.6 L512.5 410.7 L513 410.9 L513.5 411.3 L514 411.7 L514.5 411.8 L515 411.9 L516 412.5 L520 414.3 L521 415.1 L522 415.4 L523 416 L524.5 416.7 L525 417 L526 417.2 L529 418.9 L530 419.2 L530.5 419.4 L531.5 420 L532.5 420.3 L533.5 420.9 L534 420.9 L535 421.7 L537.5 422.8 L538.5 423.2 L538.5 446 Z" fill="#6495ed" stroke="#000" stroke-width="0.7" stroke-linejoin="round" />
<path d="M177.5 598.3 L177.5 598.2 L185 591.6 L208.5 556.1 L209 555.5 L209.8 574.7 L211.2 582 L211.5 568 L212 551.8 L213 550.6 L220.5 543.9 L228 532.8 L238 520 L238.5 519.6 L243.5 516.8 L244 516.4 L244.5 515.5 L245 514.9 L245.5 514.7 L245.6 514.1 L246 522.2 L246.5 534 L247.5 512 L247.7 510.9 L248 512.3 L248.5 518.9 L249 531.9 L249.3 528 L249.5 531.7 L250 515.8 L250.3 512.5 L250.5 508 L251 503.6 L251.3 503.1 L252 502.8 L252.5 503.5 L253 507.7 L253.3 505.7 L253.5 505.2 L254 505.8 L254.5 507.5 L254.6 507.1 L255 514.9 L255.5 520 L255.7 524.9 L256 507.3 L256.5 500.6 L257 500.5 L257.5 509.9 L257.6 509.4 L258 500.7 L258.4 500 L260.2 499.4 L260.5 500.3 L261 523.2 L261.5 503.5 L261.8 498.9 L262.6 498.8 L263 503.8 L263.5 498.7 L264 506.4 L264.3 513.5 L264.5 506.6 L265 502.1 L265.1 498.5 L266 498.4 L266.5 498.7 L266.8 498.4 L267 508.7 L267.6 557.2 L268 516.2 L268.4 498.3 L268.5 500.9 L269 501.3 L269.2 498.1 L269.5 499.1 L270 498.3 L270.5 512.5 L270.8 532.3 L271 520.7 L271.5 499.5 L271.6 497.9 L272.8 497.7 L273 501.9 L273.5 525.9 L273.6 534.6 L274 532.5 L274.5 507.5 L275 514.7 L275.3 520.9 L275.5 518.4 L276 506.7 L276.5 500.5 L277 497.3 L277.7 497.2 L278 498.8 L278.5 506 L279 502.5 L279.3 497.1 L279.5 497.4 L280 497 L282 496.8 L282.5 496.9 L282.7 496.7 L283 501.5 L283.5 537.5 L284 503.7 L284.3 496.6 L288.7 496.1 L289 506.2 L289.5 539.3 L290 509.4 L290.3 496 L291.5 495.9 L292 496.3 L292.5 499.3 L292.8 499.8 L293 498.4 L293.5 501.3 L294 496.3 L294.5 496.6 L294.6 496.1 L295 496.7 L296 497.6 L296.4 499.5 L296.5 498.5 L297 499.7 L297.5 500 L298 497.5 L298.5 496.3 L299 495.9 L299.5 495.6 L300 495.9 L300.5 496.4 L301 496.8 L301.3 496.6 L301.5 496.7 L302 496.5 L302.4 496 L302.5 495.8 L303.5 495.9 L304 496.7 L304.1 496.2 L304.5 500.7 L304.9 510.2 L305 506.1 L305.5 497.5 L305.7 495.7 L306 496.8 L306.5 496 L307 495.5 L307.3 495.6 L307.5 497.5 L308 510.4 L308.3 535.3 L308.5 518.2 L309 497.2 L309.1 495.7 L309.5 495.5 L310 495.4 L310.2 495.5 L310.5 495.3 L311 496.4 L311.5 495.3 L311.9 495.5 L312 495.4 L312.5 495.7 L313.1 495.6 L313.5 503.6 L313.9 525.2 L314 514.8 L314.5 497.4 L314.6 496.9 L315 496.8 L315.5 497.1 L316 508.5 L316.3 526.8 L316.5 512.9 L317 496.9 L317.1 496.4 L318 497.5 L318.2 496.1 L318.5 498.7 L319.5 514.4 L320 516.5 L320.5 520.3 L320.8 523.7 L321 514 L321.5 504 L322 497.6 L323 495 L323.5 495.3 L324 497.9 L324.3 501.6 L324.5 497.9 L325.2 495.5 L325.5 495.9 L326 495.8 L326.5 495.4 L327 495.7 L327.5 498.3 L327.8 507.2 L328 503.3 L328.5 497.7 L328.6 495.7 L328.9 495.6 L329 495.5 L329.5 495.6 L329.7 495.8 L330.5 510.7 L331 497.6 L331.3 496.1 L331.5 495.9 L332 496.2 L332.5 497.1 L332.8 496.2 L333 497.4 L333.5 496.2 L333.7 496.4 L334 498 L334.5 512.2 L335 500.8 L335.4 497.6 L335.5 497.5 L335.7 497.8 L336.5 522.6 L337 500.1 L337.5 495.5 L338 496.1 L338.5 496.9 L338.9 495.9 L339 496.1 L339.5 496.1 L339.7 496.1 L340 498.1 L340.5 518 L341 498.5 L341.5 495.7 L342 499.9 L342.5 515.2 L343 501.3 L343.3 498.1 L343.5 498.2 L344 498 L344.5 498.2 L345 510.3 L345.3 530.8 L345.5 520.8 L346 510.6 L346.1 507.1 L346.4 506.5 L346.5 510.2 L347 516.8 L347.3 526.1 L348 504 L348.1 503.1 L348.5 506.3 L349 506.1 L349.3 502.6 L350.2 521.5 L350.5 505.4 L351 496.1 L351.5 495.8 L351.6 495.9 L352 497.7 L352.4 501.3 L352.5 500 L353 497.2 L353.3 496.1 L353.5 496.4 L354 496.1 L354.5 496.4 L355 507.2 L355.3 526.3 L355.5 511.2 L356 497.3 L356.1 496.3 L356.5 496.1 L356.9 496.2 L357 496.4 L357.5 498.8 L357.7 502.9 L358 498.1 L358.3 495.8 L358.5 495.8 L358.7 496 L359 498.3 L359.5 532.9 L360 503 L360.5 497.1 L360.9 497.3 L361 498 L361.5 512.3 L361.7 527.9 L362 507.1 L362.5 496.5 L363 497.1 L363.5 496.3 L364 499.4 L364.3 499.9 L364.5 498.6 L365 496.9 L365.2 496.5 L365.5 496.6 L366 497.4 L366.3 498.3 L366.5 498.1 L367 497.8 L367.1 496.8 L367.5 496.8 L367.8 496.9 L368 497.4 L368.5 499.9 L368.6 502.6 L369 498.9 L369.5 497 L370 497.2 L370.4 497.3 L371 506.7 L371.2 517.7 L371.5 505.5 L372 498.3 L372.2 497.6 L372.5 497.9 L372.7 497.8 L373 503 L373.5 515.8 L374 501.8 L374.3 497.8 L374.5 498 L375 498.3 L375.2 497.7 L375.5 497.9 L376 508.6 L376.3 531.9 L376.5 516.4 L377 498.4 L377.1 497.8 L377.5 498.4 L378 497.6 L378.4 497.9 L379 509.8 L379.2 522.8 L379.5 505.7 L380 498.5 L381 498.3 L381.8 498.7 L382 498.6 L382.5 499 L382.6 498.8 L383.4 509.1 L384 500.1 L384.2 498.7 L384.5 499.9 L385 498.6 L385.5 499.3 L385.8 498.7 L386 498.7 L386.5 499.3 L387 499 L387.5 499.4 L387.8 499.5 L388 500.5 L388.5 499.4 L389.5 499.1 L390 499.3 L390.2 499 L390.5 501.4 L391 499.6 L391.5 500.2 L391.8 499.6 L392 499.5 L393 499.7 L393.4 499.9 L393.5 500.4 L394 511.8 L394.2 523.6 L394.5 508.7 L395 499.9 L396 499.7 L396.1 499.8 L396.5 499.9 L397 507.3 L397.5 542.8 L398 508.4 L398.4 500.5 L399 500.3 L400 500.3 L401 500.6 L401.3 500.7 L402 501 L402.6 500.8 L403 500.8 L403.4 501 L404 507.4 L404.4 520.6 L404.5 516.6 L405 504 L405.4 501.7 L406 501.4 L407.4 502.2 L408 511.6 L408.4 531.7 L408.5 524 L409 506.8 L409.4 502.8 L409.5 502.8 L409.7 502.6 L410 502.5 L410.4 502.6 L410.5 503 L411 505.7 L411.3 508.9 L411.5 507 L412 503.9 L412.2 503.2 L413 503 L413.5 503.1 L414 503 L415 503.9 L415.3 503.9 L416 503.9 L416.5 503.9 L417 504.1 L417.7 504 L418 504.2 L418.5 505 L419.2 505.6 L419.5 505.2 L420 504.8 L420.5 504.7 L420.8 504.8 L421 505 L421.6 505 L422 509.7 L422.5 528.3 L422.6 535 L423 516.2 L423.6 505.6 L424 505.2 L424.5 505.3 L425 505.5 L425.2 505.6 L425.6 505.8 L426 511.7 L426.5 534.9 L426.6 542.9 L427 518.9 L427.6 506.2 L427.9 506 L428.5 506.3 L429 506.3 L429.2 506.3 L429.6 506.5 L430 517.9 L430.5 553.2 L431 519.6 L431.4 507.3 L431.5 507.2 L431.9 506.9 L432.5 507.5 L433 508.4 L433.6 510 L434.5 507.4 L435 507.6 L435.5 507.6 L436 507.5 L436.5 507.6 L437 508.2 L437.4 508 L438 508.4 L438.4 509.2 L439 530 L439.4 563.7 L440 520.4 L440.4 510.8 L440.5 510.8 L441 509.9 L441.2 509.7 L442 509.5 L442.5 509.5 L443 510 L443.5 510.2 L443.8 510.2 L444 510.3 L444.5 510.3 L445 510.4 L445.5 510.9 L445.8 510.9 L446.5 513.5 L447.4 519 L448.5 511.9 L449.5 512.5 L450 513 L450.5 513.1 L451 513.1 L451.5 513.2 L452.5 513.8 L453.5 513.9 L454 514.4 L454.5 514.5 L455 514.3 L455.5 514.5 L456.5 515.4 L457 515.9 L457.3 515.9 L457.5 516.2 L458.5 519.1 L459.2 519.9 L459.5 529.2 L460 558.8 L460.5 531.8 L460.9 518.9 L461.5 518.4 L461.6 518.2 L462 518 L462.5 518.1 L463.3 518.7 L463.5 522.9 L464.2 554.3 L464.5 556.6 L465 561.7 L465.3 566 L466 535.3 L466.5 521.4 L466.6 519.9 L467 520.6 L467.5 520.9 L468.5 521.7 L469 521.3 L469.5 521.3 L470 522.3 L470.5 522.9 L470.6 522.8 L471 522.6 L471.4 523.3 L471.5 527.4 L472.3 563 L473 529.6 L473.2 524 L473.5 524.3 L474 524.5 L474.5 525.3 L475 525.6 L475.5 525.4 L476 525.4 L476.5 524.6 L477 525 L477.5 526.4 L478 526.8 L479 526.9 L479.5 527.9 L480 529.1 L480.5 529.6 L481.5 528.7 L482 529.6 L482.5 530.1 L483 530.4 L483.5 530.8 L484.5 531.2 L485 530.9 L485.5 531 L486 532.1 L486.5 532.7 L486.8 532.5 L487 532.5 L487.4 532.7 L488.3 560 L489.2 535 L489.6 534.3 L490 535.1 L490.5 535.6 L491.5 535.4 L492 536.1 L492.5 536.5 L493 536.5 L493.5 536.6 L494 537.3 L494.5 537.3 L495 537.7 L495.5 538.6 L496 538.1 L496.5 538.3 L497 539.2 L497.5 539.6 L498 539.9 L498.5 539.9 L499 540.1 L499.8 540.8 L500 541 L500.5 541.9 L500.8 542.3 L501.6 547 L502.5 543.8 L505.1 546.9 L520 563.8 L540 591.5 L540 598.3 Z" fill="#ffd700" stroke="#000" stroke-width="0.7" stroke-linejoin="round" />
<path d="M177.5 598.3 L177.5 598.2 L185 591.6 L208.5 556.1 L209 555.5 L209.8 574.7 L211.2 582 L211.5 568 L212 551.8 L213 550.6 L218 546.1 L220.5 544.8 L226 538.6 L235 526.7 L238 523.2 L238.5 522.8 L243.5 520.1 L244 519.7 L244.5 518.7 L245 518.2 L245.5 517.9 L245.6 517.4 L246 524.7 L246.5 535.5 L247.5 515.3 L247.7 514.3 L248 515.5 L248.5 521.5 L249 533.4 L249.3 529.7 L249.5 533.1 L250 518.4 L250.3 515.4 L250.5 511.3 L251 507.1 L251.3 506.6 L252 506.3 L252.5 507.1 L253 511 L253.3 509.2 L253.5 508.7 L254 509.2 L254.5 510.8 L254.6 510.5 L255 517.6 L255.5 522.3 L255.7 526.7 L256 510.7 L256.5 504.4 L257 504.3 L257.5 513.1 L257.6 512.6 L258 504.6 L258.4 503.9 L260.2 503.4 L260.5 504.3 L261 525.2 L261.5 507.4 L261.8 503 L262.6 502.9 L263 507.7 L263.5 502.9 L264 510.1 L264.3 516.5 L264.5 510.3 L265 506.3 L265.1 502.8 L266 502.8 L266.5 503.1 L266.8 502.8 L267 512.3 L267.6 557.8 L268 519 L268.4 502.8 L268.5 505.3 L269 505.7 L269.2 502.7 L269.5 503.7 L270 502.9 L270.5 515.8 L270.8 533.6 L271 523.2 L271.5 504.2 L271.6 502.6 L272.8 502.5 L273 506.5 L273.5 527.9 L273.6 535.6 L274 533.7 L274.5 511.5 L275 517.9 L275.3 523.4 L275.5 521.2 L276 510.9 L276.5 505.3 L277 502.3 L277.7 502.3 L278 503.8 L278.5 510.3 L279 507.2 L279.3 502.2 L279.5 502.5 L280 502.1 L282 502 L282.5 502.1 L282.7 502 L283 506.4 L283.5 538.2 L284 508.4 L284.3 501.9 L288.7 501.6 L289 510.7 L289.5 539.9 L290 513.6 L290.3 501.6 L291.5 501.6 L292 501.9 L292.5 504.8 L292.8 505.3 L293 504 L293.5 506.5 L294 502.1 L294.5 502.3 L294.6 501.8 L295 502.5 L296 503.4 L296.4 505.1 L296.5 504.2 L297 505.3 L297.5 505.6 L298 503.4 L298.5 502.2 L299 501.9 L299.5 501.6 L300 501.9 L300.5 502.4 L301 502.8 L301.3 502.6 L301.5 502.7 L302 502.5 L302.4 502.1 L302.5 501.8 L303.5 502 L304 502.7 L304.1 502.3 L304.5 506.3 L304.9 514.5 L305 511 L305.5 503.6 L305.7 501.8 L306 502.9 L306.5 502 L307 501.6 L307.3 501.7 L307.5 503.6 L308 514.7 L308.3 536.3 L308.5 521.5 L309 503.3 L309.1 501.8 L309.5 501.6 L310 501.5 L310.2 501.6 L310.5 501.5 L311 502.5 L311.5 501.5 L311.9 501.6 L312 501.6 L312.5 501.8 L313.1 501.8 L313.5 508.9 L313.9 527.6 L314 518.6 L314.5 503.6 L314.6 503.1 L315 503 L315.5 503.3 L316 513.1 L316.3 528.9 L316.5 516.9 L317 503.1 L317.1 502.6 L317.5 503.2 L318 503.7 L318.2 502.4 L318.5 504.7 L319.5 518.2 L320 520.1 L320.5 523.3 L320.8 526.3 L321 517.9 L321.5 509.3 L322 503.8 L323 501.3 L323.5 501.6 L324 504 L324.3 507.3 L324.5 504.1 L325 502.6 L325.2 501.8 L325.5 502.2 L326 502.1 L326.5 501.8 L327 502 L327.5 504.5 L327.8 512.1 L328 508.7 L328.5 504 L328.6 502.1 L328.9 502 L329 501.9 L329.5 502 L329.7 502.2 L330.5 515.2 L331 503.9 L331.3 502.5 L331.5 502.3 L332 502.6 L332.5 503.5 L332.8 502.6 L333 503.8 L333.5 502.6 L333.7 502.8 L334 504.3 L334.5 516.5 L335 506.8 L335.4 504 L335.5 503.9 L335.7 504.2 L336.5 525.5 L337 506.1 L337.5 502 L338 502.6 L338.5 503.4 L338.9 502.4 L339 502.7 L339.5 502.6 L339.7 502.6 L340 504.5 L340.5 521.6 L341 504.9 L341.5 502.3 L342 506 L342.5 519.2 L343 507.2 L343.3 504.5 L343.5 504.7 L344 504.4 L344.5 504.6 L345 515 L345.3 532.5 L345.5 523.9 L346 515.3 L346.1 512.3 L346.4 511.8 L346.5 515 L347 520.6 L347.3 528.5 L348 509.6 L348.1 508.9 L348.5 511.6 L349 511.5 L349.3 508.5 L350.2 524.6 L350.5 510.9 L351 502.8 L351.5 502.5 L351.6 502.6 L352 504.3 L352.4 507.4 L352.5 506.3 L353 503.9 L353.3 502.9 L353.5 503.1 L354 502.8 L354.5 503.1 L355 512.5 L355.3 528.7 L355.5 515.9 L356 504.1 L356.1 503.1 L356.5 502.8 L356.9 502.9 L357 503.1 L357.5 505.4 L357.7 508.8 L358 504.8 L358.3 502.6 L358.5 502.6 L358.7 502.8 L359 505 L359.5 534.4 L360 508.9 L360.5 503.9 L360.9 504.1 L361 504.7 L361.5 516.9 L361.7 530.2 L362 512.5 L362.5 503.4 L363 504 L363.5 503.3 L364 506.1 L364.3 506.6 L364.5 505.5 L365 504 L365.2 503.6 L365.5 503.7 L366 504.5 L366.3 505.3 L366.5 505.1 L367 504.9 L367.1 504 L367.5 504 L367.8 504.1 L368 504.6 L368.5 506.8 L368.6 509 L369 506 L369.5 504.3 L370 504.5 L370.4 504.6 L371 512.6 L371.2 521.8 L371.5 511.6 L372 505.7 L372.2 505 L372.5 505.3 L372.7 505.2 L373 509.6 L373.5 520.3 L374 508.7 L374.3 505.3 L374.5 505.5 L375 505.9 L375.2 505.2 L375.5 505.5 L376 514.5 L376.3 533.9 L376.5 521 L377 506 L377.1 505.5 L377.5 506.1 L378 505.2 L378.4 505.6 L379 515.6 L379.2 526.3 L379.5 512.3 L380 506.3 L381 506.1 L381.8 506.5 L382 506.4 L382.5 506.9 L382.6 506.7 L383.4 515.3 L384 507.9 L384.2 506.7 L384.5 507.7 L385 506.6 L385.5 507.3 L385.8 506.7 L386 506.7 L386.5 507.4 L387 507.1 L387.5 507.5 L387.8 507.6 L388 508.4 L388.5 507.6 L389 507.4 L389.5 507.3 L390 507.5 L390.2 507.2 L390.5 509.3 L391 507.9 L391.5 508.4 L391.8 507.9 L392 507.8 L393 508 L393.4 508.3 L393.5 508.7 L394 517.9 L394.2 527.5 L394.5 515.5 L395 508.4 L396 508.2 L396.1 508.4 L396.5 508.4 L397 514.4 L397.5 543.8 L398 515.4 L398.4 509.1 L399 508.9 L400.5 509.1 L402 509.5 L402.6 509.3 L403 509.3 L403.4 509.5 L404 514.7 L404.4 525.3 L404.5 522.1 L405 511.9 L405.4 510 L406 509.7 L407.4 510.4 L408 518 L408.4 534.3 L408.5 528 L409 514.1 L409.4 510.8 L409.5 510.8 L409.7 510.6 L410 510.6 L410.4 510.7 L410.5 511 L411 513.1 L411.3 515.8 L411.5 514.2 L412 511.6 L412.2 511.1 L413 510.9 L413.5 510.9 L414 510.9 L415 511.5 L415.3 511.6 L416 511.5 L416.5 511.5 L417 511.7 L417.7 511.6 L418 511.8 L418.5 512.4 L419.2 512.9 L419.5 512.6 L420 512.2 L420.5 512.1 L420.8 512.2 L421 512.3 L421.6 512.3 L422 516.1 L422.5 531.5 L422.6 537.1 L423 521.5 L423.6 512.7 L424 512.4 L424.5 512.4 L425.6 512.9 L426 517.7 L426.5 537 L426.6 543.8 L427 523.7 L427.6 513.1 L427.9 513 L428.5 513.2 L429 513.2 L429.2 513.1 L429.6 513.3 L430 522.9 L430.5 554 L431 524.2 L431.4 514 L431.5 513.9 L431.9 513.6 L432.5 514.1 L433 514.8 L433.6 516.1 L434.5 513.9 L435 514 L435.5 514.1 L436 513.9 L436.5 514 L437 514.5 L437.4 514.4 L438 514.6 L438.4 515.4 L439 532.9 L439.4 564.5 L439.5 554.6 L440 524.8 L440.4 516.7 L440.5 516.6 L441.2 515.7 L442.5 515.5 L443 515.9 L443.5 516.1 L444 516.2 L444.5 516.2 L445 516.2 L445.5 516.7 L445.8 516.7 L446.5 519 L447.4 523.6 L448.5 517.5 L450 518.5 L450.5 518.6 L451 518.6 L451.5 518.7 L452.5 519.2 L453.5 519.3 L454 519.7 L454.5 519.8 L455 519.6 L455.5 519.7 L456.5 520.6 L457 521.1 L457.3 521 L457.5 521.3 L458.5 523.8 L459.2 524.5 L459.5 532.5 L460 559.4 L460.5 534.8 L460.9 523.7 L461.5 523.2 L461.6 523 L462.5 522.8 L463.3 523.2 L463.5 526.8 L464 545.2 L464.2 554.8 L464.5 557.1 L465 562.1 L465.3 566.4 L465.5 556.2 L466 537.3 L466.5 524.6 L466.6 523.2 L467 523.7 L467.5 523.8 L468.5 524.1 L469 523.5 L469.5 523.2 L470 523.9 L470.5 524.2 L470.6 524.1 L471 523.7 L471.4 524.2 L471.5 528.1 L472.3 563 L473 529.6 L473.2 524 L473.5 524.3 L474 524.5 L474.5 525.3 L475 525.6 L475.5 525.4 L476 525.4 L476.5 524.6 L477 525 L477.5 526.4 L478 526.8 L479 526.9 L479.5 527.9 L480 529.1 L480.5 529.6 L481.5 528.7 L482 529.6 L482.5 530.1 L483 530.4 L483.5 530.8 L484.5 531.2 L485 530.9 L485.5 531 L486 532.1 L486.5 532.7 L486.8 532.5 L487 532.5 L487.4 532.7 L488.3 560 L489.2 535 L489.6 534.3 L490 535.1 L490.5 535.6 L491.5 535.4 L492 536.1 L492.5 536.5 L493 536.5 L493.5 536.6 L494 537.3 L494.5 537.3 L495 537.7 L495.5 538.6 L496 538.1 L496.5 538.3 L497 539.2 L497.5 539.6 L498 539.9 L498.5 539.9 L499 540.1 L499.8 540.8 L500 541 L500.5 541.9 L500.8 542.3 L501.6 547 L502.5 543.8 L505.1 546.9 L520 563.8 L540 591.5 L540 598.3 Z" fill="#6495ed" stroke="#000" stroke-width="0.8" stroke-linejoin="round" />
<path d="M219 750.5 L219 750.5 L219.5 750.5 L220 749.8 L224.5 732.1 L226.5 725.2 L232 710.1 L238 696.8 L244 687.2 L244.5 685.9 L245 686.2 L245.5 687.5 L245.6 686 L246 704.4 L246.5 738.6 L247 710.1 L247.5 687 L247.7 685.5 L248.5 705.2 L249 739.9 L249.3 728.9 L249.5 740.4 L250 700.4 L250.3 695.6 L251 668.1 L251.3 667.5 L251.5 671 L252 661.4 L252.5 676.4 L253 687 L253.3 682.3 L253.5 684 L254 681.8 L254.5 693.1 L254.6 690.8 L255 703.8 L255.5 714.9 L255.7 729.7 L256 693.5 L256.6 662.6 L257 663 L257.5 695.2 L257.6 693.8 L258 667 L258.4 652.8 L259 664.6 L259.2 666.7 L259.5 667.9 L260.2 659.4 L260.5 666 L261 727.9 L261.5 676.8 L261.8 667.7 L262 668.1 L262.5 657.1 L263 691.2 L263.5 680 L264 686.6 L264.3 704.1 L264.5 686 L265 675.4 L265.1 663.9 L265.5 659.2 L266 657.5 L266.5 662.3 L266.8 667.7 L267 699.2 L267.5 750.5 L267.6 750.5 L268 712.6 L268.4 665.2 L268.5 668.8 L269 669.3 L269.2 657.1 L269.5 662.8 L270 669.5 L270.5 715.2 L270.8 750.5 L271.5 666 L271.6 659.2 L272 654.1 L272.5 654.6 L272.8 656.9 L273 670.3 L273.6 750.5 L274 750.5 L274.5 681.3 L275.3 722.9 L275.5 716.2 L276 681.7 L276.5 671.8 L277.2 647.7 L277.5 654.8 L277.7 654.4 L278 660.4 L278.5 674.1 L279 675.4 L279.3 664.1 L279.5 672.4 L280 651.3 L280.5 657.5 L281 658.9 L281.2 658.8 L281.5 660 L282.5 654.6 L282.7 652.4 L283 669.3 L283.5 750.5 L284 676.9 L284.3 658.3 L284.5 656.3 L285.1 665.2 L285.5 665.3 L286 645.1 L286.5 646.7 L287 646.6 L287.1 645.6 L287.5 645.7 L288 648.4 L288.5 648.9 L288.7 655.4 L289 684.8 L289.5 750.5 L290.3 650 L290.5 654.6 L291 649.1 L291.5 645.3 L292 666.4 L292.5 654.1 L292.8 668.3 L293 674.7 L293.5 670.2 L294 655.9 L294.5 668.4 L294.6 666 L295 664.9 L295.5 655.5 L296 658.7 L296.4 668.8 L296.5 668.9 L297 667.6 L297.5 655.8 L298 648.5 L298.5 655.8 L299 655.9 L299.6 644.9 L300 644 L300.5 647.9 L301 668.2 L301.5 655.2 L302 645.7 L302.5 653.9 L303 665.7 L303.5 672.4 L304.1 657.3 L304.5 664.9 L304.9 688.4 L305 670.3 L305.5 677.8 L305.7 670 L306 668 L306.5 644.9 L307.3 653.3 L307.5 661.4 L308 688.6 L308.3 750.5 L308.5 728.9 L309 646.6 L309.1 645.3 L309.5 652.5 L310.2 644.9 L310.5 645.3 L311 643.3 L311.5 654.5 L312 644.7 L312.5 648.4 L313 660.4 L313.1 656.7 L313.5 665.9 L313.9 750.5 L314 720.2 L314.5 653.2 L314.6 649.3 L315 643.1 L315.5 651.4 L316 694.6 L316.3 750.5 L316.5 709.3 L317.1 674.8 L317.5 660 L318 646.2 L318.2 643.6 L318.5 651 L319 679.7 L319.5 720.9 L320 729.3 L320.5 746.3 L320.8 750.5 L321 721 L321.5 680.2 L322 651.6 L322.5 663.5 L322.9 644.2 L323 643.5 L323.5 644.6 L324 656 L324.3 661.2 L324.5 648.6 L325 646.7 L325.2 644.4 L325.5 644 L326 652.2 L326.5 643.2 L327 644.4 L327.5 660.1 L327.8 682.5 L328 666.7 L328.5 657.7 L328.6 647.3 L328.9 644.4 L329 644.2 L329.5 671.5 L329.7 669.9 L330.5 697 L331 653.9 L331.3 645.4 L331.6 645.7 L332.5 669.5 L332.8 659 L333 657 L333.5 643 L333.7 643 L334 649.7 L334.5 712.1 L335 666.2 L335.4 659.8 L335.5 660.2 L335.7 658.9 L336 686.7 L336.5 750.5 L337 671.5 L337.5 643.1 L338 643.9 L338.5 665.9 L339 648.9 L339.5 658.6 L339.7 655.1 L340 656.7 L340.5 747.9 L341 651.5 L341.5 659.3 L342 669.2 L342.5 734.6 L343 659 L343.3 655.6 L343.5 663.3 L344 658.6 L344.5 651 L345 697.9 L345.3 750.5 L345.5 750.5 L346 701.8 L346.1 685.1 L346.4 681.9 L346.5 698.5 L347 741.6 L347.3 750.5 L347.5 750.5 L348 670.5 L348.1 666.2 L348.5 690.8 L349 678.1 L349.3 665 L349.5 683.2 L350 747.1 L350.2 750.5 L350.5 677.3 L351 645.9 L351.5 643.5 L351.6 644.2 L352 652.6 L352.4 664.3 L352.5 661.3 L353 665 L353.3 659.7 L353.5 658.1 L354 660.1 L354.5 653.2 L355 683.7 L355.3 750.5 L355.5 706.9 L356 648.7 L356.1 647.5 L356.5 659.2 L357 651.3 L357.5 659.1 L357.7 671.1 L358 656.7 L358.3 665.3 L358.5 674.6 L358.7 673.8 L359 676.9 L359.5 750.5 L360 679.9 L360.5 669 L360.9 654.9 L361 653.1 L361.5 712.9 L361.7 750.5 L362 691.3 L362.5 662.6 L363 660.5 L363.5 653.1 L364 672 L364.3 671.4 L364.5 664.2 L365 652.6 L365.2 652.3 L365.5 657.2 L366 655.8 L366.3 656.8 L366.5 658.7 L367 658.2 L367.1 653.1 L367.5 666.2 L368 657 L368.5 670.3 L368.6 676.5 L369 668.4 L369.5 662.6 L370 675.7 L370.4 671.8 L370.5 672.9 L371 690.5 L371.2 743.2 L371.5 689.7 L372.2 660 L372.7 677.7 L373.5 736.5 L374 678.8 L374.3 665.9 L374.5 665.1 L375 676.2 L375.5 662.9 L376 694.6 L376.3 750.5 L376.5 736.6 L377 669.6 L377.1 666 L377.5 674.1 L377.9 673.4 L378 673.4 L378.4 669.8 L378.5 671.9 L379 706.6 L379.2 750.5 L379.5 693 L380 673.9 L380.5 678.7 L381 674.7 L381.5 677.7 L381.8 676.9 L382 675.9 L382.5 688.1 L382.6 687 L383.4 702.7 L383.5 702 L384 677.9 L384.2 677.7 L384.5 684.5 L385 675.7 L385.5 681.8 L385.8 679.9 L386 679.4 L386.5 680.4 L387 685.5 L387.5 707.9 L387.8 707.2 L388 708.2 L388.5 683.9 L389 699.3 L389.5 686.3 L390 690.1 L390.2 684.5 L390.5 688.3 L391 696.5 L391.5 695.8 L392 703.2 L392.5 697.4 L393 684.5 L393.4 684.1 L393.5 686.7 L394 713.3 L394.2 750.5 L394.5 705.8 L395 681.5 L395.5 687 L396 690.5 L396.1 690.6 L396.5 689.9 L396.6 689.4 L397 698.4 L397.5 750.5 L398 700.8 L398.4 682.2 L398.5 682.2 L399 684.9 L399.5 695.1 L399.6 690.4 L400 690.8 L400.5 705.4 L401 690.5 L401.3 685.1 L401.5 684.1 L402 697.4 L402.5 691.4 L402.6 688.1 L403 691.2 L403.5 685.7 L404 699.4 L404.4 747.9 L404.5 733.1 L405 702.2 L405.4 690.4 L405.5 697.5 L406 685.3 L406.5 700.3 L407 694.1 L408 712.9 L408.4 750.5 L408.5 750.5 L409 703.2 L409.4 694.2 L409.5 693.4 L409.7 689.4 L410 694.3 L410.5 700.3 L411 703.2 L411.3 705.6 L411.5 699.3 L412.2 695 L412.5 702.3 L413 711.3 L413.5 693.1 L413.9 701.7 L414 705.2 L414.5 708.6 L415 700.6 L415.5 720 L416 700.1 L416.5 694.9 L417 691.6 L417.5 704.7 L418 697.1 L418.5 693.6 L419 702.8 L419.2 698.2 L419.5 696.1 L420 709.9 L420.5 713.6 L420.8 698.4 L421 693.7 L421.5 702.2 L421.6 700.7 L422 705.5 L422.5 750.5 L422.6 750.5 L423 718.9 L423.6 696.3 L424 698.6 L424.5 691.6 L425.2 696.9 L425.5 699.8 L425.6 698.7 L426 707.4 L426.5 750.5 L426.6 750.5 L427.6 699 L427.9 700.1 L428.5 714.1 L429 703.3 L429.2 700.2 L429.5 718.1 L429.6 717.7 L430 731.7 L430.5 750.5 L431 733.5 L431.4 700.6 L431.5 701.4 L431.9 699.2 L432 699 L432.5 706.5 L433 707.6 L433.5 707.8 L434 702 L434.5 704.1 L435 704.3 L435.5 705.1 L436 702.9 L436.5 702.2 L437 703.9 L437.4 700.1 L437.5 701.2 L438 701.9 L438.4 709.7 L439 750.5 L439.5 750.5 L440 733.4 L440.4 708.1 L440.5 710.3 L441 708.6 L441.2 705.2 L441.5 704.6 L442 709.4 L442.5 703.8 L443 706.1 L443.5 714 L444 717.5 L444.5 713.2 L445 711.2 L445.5 713.8 L446 723.4 L446.5 728.6 L447 725.5 L447.4 733.9 L448 735.2 L448.5 717.5 L449 718 L449.5 719.3 L450 720.2 L450.5 719.8 L451 719.9 L451.5 720.9 L452 724.1 L452.5 726.3 L453 720.6 L453.5 728.5 L454 723.7 L454.5 723.4 L455 723.3 L455.5 721.9 L455.8 721.7 L456 721.9 L456.5 723.1 L457 727.1 L457.5 728.7 L458 726.4 L458.5 730.8 L459 729.3 L459.2 729.7 L459.5 750.5 L460.5 750.5 L460.9 729.4 L461 729.5 L461.5 728.9 L462 733.9 L463.3 725.2 L463.5 736.2 L464 750.5 L466 750.5 L466.6 731.7 L467 734.3 L467.5 733.7 L468 734.9 L468.5 739.6 L468.6 739.1 L469 738.1 L469.5 733.3 L470 739.1 L470.5 741.9 L471 740.6 L471.4 741.1 L471.5 750.5 L473 750.5 L473.2 740 L474.5 746.5 L475 748.4 L475.5 748.5 L475.9 749.4 L476 749.5 L476 750.5 Z" fill="#ffd700" stroke="#000" stroke-width="0.8" stroke-linejoin="round" />
<path d="M219 750.5 L219 750.5 L221 750.5 L226.5 733.7 L232 721.2 L238 710.1 L244 702.1 L244.5 700.9 L245 701.2 L245.5 702.3 L245.6 701 L246 716.4 L246.5 745 L247 721.1 L247.5 701.8 L247.7 700.3 L248.5 716.7 L249 746.1 L249.3 736.9 L249.5 746.6 L250 713.2 L250.3 709 L251 685.7 L251.3 684.4 L251.5 686.6 L252 681.4 L252.5 693 L253 702.5 L253.3 698.1 L253.5 698.9 L254 698 L254.5 706.2 L254.6 704.5 L255 716.2 L255.5 725.9 L255.7 737.8 L256 706.5 L256.5 683.3 L256.6 680.8 L257 682.7 L257.5 709 L257.6 707.9 L258 686.2 L258.4 674.7 L259 681.7 L259.2 683.2 L259.5 683.8 L260 679.9 L260.2 678.9 L260.5 685.5 L261 736.5 L261.5 693.8 L261.8 685.6 L262 685.4 L262.5 678.5 L263 702.7 L263.5 693.1 L264 701.6 L264.3 716.3 L264.5 701.3 L265 691.8 L265.1 682.4 L265.5 679.3 L266 678.7 L266.5 682.1 L266.8 685 L267 710.7 L267.5 750.5 L267.6 750.5 L268 722.8 L268.4 683.6 L268.5 686.9 L269 687.3 L269.2 678.2 L269.5 682.4 L270 686.1 L270.5 722.2 L270.8 750.5 L271 735.7 L271.5 684.3 L271.6 679.1 L272 675.8 L272.5 676 L272.8 677.7 L273 687.9 L273.5 745.7 L273.6 750.5 L274 750.5 L274.5 697.9 L275.3 732.1 L275.5 726.4 L276 697.4 L276.5 687.9 L277.2 671 L277.5 675.6 L277.7 675.3 L278 680.1 L278.5 692.2 L279 691 L279.3 680.4 L279.5 686.9 L280 672.5 L280.5 677.2 L281 677.3 L281.2 677 L281.5 677.9 L282.5 675.6 L282.7 673.3 L283 686.7 L283.5 750.5 L284 692.4 L284.3 677.4 L284.5 676.1 L285.1 681.4 L285.5 681.2 L286 668.9 L286.5 669.6 L287 670.1 L287.1 668.7 L287.5 669 L288 670.7 L288.5 671.2 L288.7 675.4 L289 698.7 L289.5 750.5 L290.3 672.3 L290.5 675.1 L291.5 669.4 L292 683.7 L292.5 677.9 L292.8 686.8 L293 690.2 L293.5 689.1 L294 678.7 L294.5 686.5 L294.6 684.8 L295 684.8 L295.5 680.1 L296 682.6 L296.4 689.3 L296.5 689.1 L297 689 L297.5 682.8 L298 678.1 L298.5 681.6 L299 681.9 L299.6 676.1 L300 676 L300.5 678.8 L301 690.6 L302 677.3 L303 690.2 L303.5 694.1 L304.1 686.7 L304.5 693.2 L304.9 711.5 L305 699.1 L305.5 699.3 L305.7 694.3 L306 694 L306.5 679.7 L307 685 L307.3 686.8 L307.5 692.2 L308 713.4 L308.3 750.5 L308.5 740.3 L309 685.7 L309.1 683.6 L309.5 688.1 L310 685.7 L310.2 682.9 L310.5 685.3 L311 684.4 L311.5 690.6 L312 686.3 L312.5 688.6 L313 694.7 L313.1 693 L313.5 701.2 L313.9 750.5 L314 735.4 L314.5 692.8 L314.6 690.7 L315 687.9 L315.5 692.1 L316 717.9 L316.3 750.5 L316.5 728.8 L317.1 703.1 L317.5 696.7 L318 691.1 L318.2 687.7 L318.5 694 L319 710.5 L319.5 736.4 L320 741.7 L320.5 750.5 L320.8 750.5 L321 736.1 L321.5 710.3 L322 695 L322.5 699.7 L323 688.8 L323.5 689.2 L324 697.9 L324.3 701.7 L324.5 694.8 L325 693.1 L325.2 691.6 L325.5 692 L326 695.7 L326.5 691.6 L327 692.5 L327.5 700.9 L327.8 714.6 L328 705.9 L328.5 699.5 L328.6 694.1 L328.9 690.5 L329.5 704.5 L329.7 703.9 L330.5 723.7 L331 698.1 L331.3 691.4 L331.5 692.3 L332.5 704.5 L332.8 699.7 L333 699.4 L333.5 692.3 L333.7 692.9 L334 696.8 L334.5 731.6 L335 705.1 L335.4 700.9 L335.5 700.9 L335.7 700.6 L336.5 750.5 L337 707.2 L337.5 691.2 L338 693 L338.5 703.3 L339 695.8 L339.5 699.9 L339.7 698.4 L340 700.1 L340.5 750.5 L341 699 L341.5 701.1 L342 707.5 L342.5 745.2 L343 704.5 L343.3 701.8 L343.5 705.2 L344 703.4 L344.5 700.9 L345 726 L345.3 750.5 L345.5 750.5 L346 727.9 L346.1 719.2 L346.4 717.8 L346.5 726.5 L347 749.2 L347.3 750.5 L347.5 750.5 L348 712.9 L348.1 710.9 L348.5 721.7 L349 717.2 L349.3 710.8 L350 750.5 L350.2 750.5 L350.5 717.2 L351 702.1 L351.5 701.5 L352 706.2 L352.4 712.4 L352.5 711.1 L353 711.8 L353.3 710 L353.5 709.8 L354 711.1 L354.5 709.5 L355 724.1 L355.3 750.5 L355.5 734 L356 710.5 L356.1 710.1 L356.5 714.2 L357 712.6 L357.5 716.5 L357.7 721.4 L358 716.1 L358.3 718.5 L358.5 721.4 L358.7 721.5 L359 723.3 L359.5 750.5 L360 726.5 L360.9 719.6 L361 719.5 L361.5 739.7 L361.7 750.5 L362 732.6 L362.5 723.7 L363 723.8 L363.5 722.6 L364 728.1 L364.3 728.3 L364.5 726.5 L365 724.2 L365.2 724.3 L365.5 725.6 L366 726 L366.5 727.2 L367 727.6 L367.1 726.5 L367.5 729.5 L367.8 728.7 L368 728.3 L368.5 731.9 L368.6 733.5 L369 731.7 L369.5 730.9 L370 733.7 L370.4 733.5 L370.5 733.9 L371 738.5 L371.2 750.2 L371.5 738.6 L372.2 733.5 L372.7 736.7 L373 740.5 L373.5 748.6 L374 738.6 L374.3 736.8 L374.5 736.9 L375 738.8 L375.2 738.3 L375.5 737.8 L376 743 L376.3 750.5 L376.5 749.3 L377 740.3 L377.1 740 L377.5 741.3 L378 741.8 L378.4 741.9 L378.5 742.3 L379 746.3 L379.2 750.5 L379.5 745.4 L380 744.1 L380.5 745 L381 745.3 L381.5 746.1 L382 746.6 L382.5 747.6 L382.6 747.7 L383.4 749.1 L383.5 749.1 L384 749 L385 750.3 L385.5 750.5 L386 750.5 L386 750.5 Z" fill="#6495ed" stroke="#000" stroke-width="0.8" stroke-linejoin="round" />
<path d="M46.5 891.5 L46.5 893.7 L177.5 893.7 L177.9 891.4 L181 889.5 L184 885 L209 833.1 L209.8 859.6 L211.2 867.4 L212 827.2 L213 825.3 L220 815.3 L244 810.1 L245.6 809.6 L246 809.9 L246.4 812.1 L246.5 813.1 L247 810.3 L247.5 809.5 L247.7 809.3 L248 809.2 L248.5 809.1 L249 812.8 L249.3 811 L249.5 812.9 L250 809 L250.3 808.9 L250.5 808.8 L251.5 808.8 L252 809.1 L253 809.1 L253.5 809 L254 808.7 L254.5 808.6 L255 807.5 L255.5 807.1 L255.7 808.1 L256 806.2 L256.5 804.3 L257 804.4 L257.5 806.2 L257.6 806.3 L258.5 806.6 L259 805.6 L259.5 805.7 L260 807 L260.5 806.6 L261 807.8 L261.5 805.2 L261.8 805.4 L262 805.6 L262.6 805.8 L263 806.2 L263.5 805.7 L264 804.7 L264.3 805.6 L264.5 805.6 L265 804.8 L265.1 804.6 L265.5 804.1 L266 804.3 L266.5 804.4 L266.8 804.3 L267 804.7 L267.5 837 L267.6 849.4 L268 806.1 L268.4 805.9 L268.5 806.1 L269 806.1 L270 804.4 L270.5 805.1 L270.8 812 L271 806.1 L271.6 804.7 L272 804.3 L272.5 803.5 L272.8 803.3 L273 803.2 L273.5 805.4 L273.6 812.7 L274 809.5 L274.5 803.1 L275.3 802.9 L275.5 802.1 L276 801.8 L276.5 801.8 L277 801.3 L277.5 801.5 L278 801.9 L278.5 801.8 L279 801.4 L279.3 801.9 L279.5 802.4 L280 801.7 L280.5 801.2 L281 801.3 L281.5 800.8 L282 801.5 L282.5 801.4 L282.7 801.6 L283 802.1 L283.5 818.2 L284 803.6 L284.3 803.3 L284.5 803.3 L285.1 804.1 L285.5 804.4 L286 804.3 L287.1 802.4 L287.5 801.8 L288 801.6 L288.5 801.8 L288.7 801.5 L289 801.2 L289.5 817 L290 798.4 L290.3 798.6 L290.5 799 L291 798.8 L291.5 797.8 L292 797.7 L292.5 797.3 L293 797.2 L293.5 797.4 L294 796.4 L294.5 796 L295 796.4 L295.5 796.1 L296 795.9 L296.5 796.2 L297 796.7 L297.5 797 L298 797.1 L298.5 796.9 L299 796.4 L299.5 796.3 L300 797.2 L300.5 797.3 L301 796.7 L301.5 797.3 L302.5 798.8 L303 797.9 L303.5 796.8 L304 796.8 L304.5 797.4 L304.9 798.9 L305 799 L305.7 797 L306 796.4 L307.3 795.6 L307.5 795.5 L308 795.8 L308.3 808.5 L308.5 797.2 L309 795.6 L309.1 795.6 L309.5 795.9 L310 796.6 L310.5 796.2 L311 796.4 L311.5 797.1 L312 797.2 L312.5 797.4 L313 797.6 L313.1 797.4 L313.5 797.1 L313.9 799.9 L314 797.8 L314.5 798.2 L315 799.6 L315.5 799.4 L316 799.8 L316.3 803.9 L316.5 800.9 L317.1 798.9 L318 796.8 L319 794 L319.5 794.5 L320 795.5 L320.5 795.3 L320.8 795.7 L321 793.6 L321.5 793.1 L322 794 L322.5 795.2 L323 794.6 L323.5 793.6 L324 793.5 L324.3 793.2 L324.5 792.8 L325 792.7 L326 794.4 L326.5 795.7 L327 796.4 L327.5 796.5 L327.8 796.8 L328 796.6 L328.6 796.6 L329 796.9 L329.5 796.9 L330 796 L330.5 795.7 L331 796.1 L332 795.7 L332.5 794.6 L333 793.1 L334 792.8 L334.5 793.5 L335 791.6 L335.5 790.1 L335.7 789.8 L336 789.8 L336.5 792 L337 790.2 L337.5 789.5 L338 789.7 L338.5 790.7 L339 791 L339.5 791.2 L340 792 L340.5 794.3 L341 792 L341.5 791.2 L342 791.7 L342.5 793 L343 791.9 L343.3 791.9 L343.5 792 L344.5 789.7 L345 790.8 L345.3 800 L345.5 792.9 L346 790.9 L346.1 790.8 L346.4 790.9 L347 792.2 L347.3 795.3 L347.5 792.8 L348 791.5 L348.5 792.3 L349 792.8 L349.3 792.4 L349.5 792.5 L350 793.5 L350.2 794.4 L350.5 792.2 L351.5 789.5 L352 788.8 L352.5 787.5 L353 786.9 L353.5 787.9 L354 787.7 L354.5 788 L355 788.9 L355.3 793.9 L355.5 789.3 L356.1 790.1 L357 791.7 L357.7 793.5 L358.5 794.7 L359 794.2 L359.5 806.5 L360 792.5 L360.5 792.6 L361 791.9 L361.5 791.9 L361.7 798.4 L362 790.9 L362.5 790.1 L363 789 L363.5 788.6 L364 788.5 L364.3 788.3 L365.5 786.7 L366 786.5 L366.5 786.6 L367 787.2 L367.1 787.2 L367.5 787.5 L368 786.9 L368.5 786.9 L368.6 786.9 L369 786.7 L369.5 787.3 L370 788.3 L370.4 788.3 L370.5 788.4 L371 788.4 L371.2 790.1 L371.5 788.4 L372 788.7 L372.5 788.2 L372.7 788.1 L373 788.3 L373.5 790.2 L374 788.4 L374.3 787.8 L374.5 787.6 L375 787.5 L375.5 787.2 L376 788.3 L376.3 802.1 L376.5 789.9 L377 787.9 L377.5 787.4 L378.4 787.1 L378.5 787.1 L379 787.8 L379.2 791.2 L379.5 787.8 L380 786.3 L380.5 786.5 L381 787.2 L382 784.4 L382.6 783.8 L383 783.8 L383.4 783.9 L383.5 783.8 L384.2 783.9 L384.5 784.2 L385 783.7 L386 784.8 L386.5 784.3 L387 782.9 L387.5 782.1 L387.8 782.5 L388 783 L388.5 783.1 L389 782.5 L389.5 782.1 L390 781.9 L390.2 781.8 L390.5 783.3 L391 783.1 L391.5 783.3 L392 782.3 L392.5 783.7 L393 784.8 L393.4 784.7 L393.5 785.1 L394 797 L394.2 815.4 L394.5 794 L395 786.4 L395.5 786.3 L396 786.5 L396.1 786.7 L396.6 786.8 L397 792.1 L397.5 838.7 L398 792.6 L398.4 783.8 L398.5 783.7 L399 783.7 L399.5 783.5 L400 782.3 L400.5 782.5 L401 783.5 L401.5 784.9 L402 786 L402.6 785 L403 784.7 L403.4 784.4 L404 789.7 L404.4 808.4 L404.5 801.2 L405 785.9 L405.4 782.7 L406 782 L407 783.4 L407.4 784 L408 792.1 L408.4 820.4 L408.5 810.8 L409 787.5 L409.4 784.1 L409.5 784.1 L409.7 784 L410 784 L410.4 783.8 L410.5 784.1 L411 786.5 L411.3 789 L411.5 787.1 L412 783.8 L412.2 783 L413 783 L413.5 783.5 L414 783.8 L414.5 784.7 L415 786.5 L415.3 786.4 L416 785.7 L416.5 785.8 L417 785.3 L417.7 785.2 L418 785.5 L418.5 786.4 L419.2 787.2 L419.5 786.9 L420 786.5 L420.8 786.5 L421 786.6 L421.5 786.8 L421.6 786.8 L422 790.9 L422.5 816.8 L422.6 825.4 L423 798.2 L423.6 786.7 L424.5 784 L425 783.4 L425.2 783.6 L425.5 784.1 L425.6 784.1 L426 789.1 L426.5 821.3 L426.6 831.7 L427 799.4 L427.6 784.4 L428 783.4 L428.5 783.5 L429 783.3 L429.2 783.1 L429.5 783 L429.6 783.2 L430 796.3 L430.5 845.3 L431 798.3 L431.4 784.2 L431.9 784.1 L432 784.2 L432.5 784.4 L433 784.9 L433.5 786.1 L433.6 786.1 L434 784.8 L434.5 783.9 L435 785.2 L436 786.3 L436.5 786 L437 786 L437.5 784.7 L438 784.5 L438.4 786.8 L439 816.2 L439.4 859.1 L440 801.9 L440.4 788.8 L440.5 788.7 L441.5 786.4 L442 786 L442.5 785.7 L443 785.9 L444 786.8 L444.5 787 L445 786.5 L445.5 785.7 L445.8 785.5 L446 785.9 L447 791.2 L447.4 794.9 L448 790.7 L448.5 788.1 L449 788.7 L449.5 789.1 L450.5 791 L451.5 788.7 L452 788.2 L452.5 787.5 L453 787.1 L453.5 786.2 L454 786.5 L454.5 787.3 L455 786.5 L455.5 786.7 L456 787.8 L457 789.1 L457.3 788.6 L457.5 788.6 L458 789.2 L458.5 790.5 L459 790 L459.2 790.2 L459.5 805.7 L460 848.1 L460.5 809.3 L460.9 788.3 L461 788.3 L461.5 786.9 L461.6 786.8 L462 787.3 L462.5 788.1 L463 787.8 L463.3 787.8 L463.5 794.3 L464.2 841 L465.3 853.9 L466 811.4 L466.5 789.3 L466.6 786.9 L467 788.2 L467.5 788.6 L468 788.1 L468.5 788.8 L469 789.2 L469.5 788.3 L470 789 L470.5 791.5 L470.6 791.3 L471 791.3 L471.4 793.2 L472.3 852.5 L473 802.4 L473.2 793.3 L473.5 794 L474 792.7 L474.5 793.9 L475 793.8 L475.5 791.6 L476 791.8 L476.5 792.5 L477 792.6 L477.5 794 L478 793.8 L478.5 793.2 L479 794.4 L479.5 796.1 L480 798.2 L480.5 799.8 L481 799.4 L481.5 798.5 L482 799.5 L482.5 799.5 L483 799.7 L483.5 800.7 L484 800.6 L484.5 800.4 L485 799.7 L485.5 800.2 L486 802.3 L486.5 803.6 L486.8 802.9 L487 802.7 L487.4 802.9 L488.3 844.6 L489 814.6 L489.2 806.3 L489.5 805.9 L489.6 805.6 L490 806.6 L490.5 807.2 L491 807.3 L491.5 807.9 L492 809.2 L493 810.5 L493.5 810.8 L494 811.3 L494.5 810.8 L495 811.7 L495.5 813.2 L496 812.7 L496.5 813.1 L497 814.2 L497.5 814.9 L498.5 816.6 L499 817.1 L499.5 817.4 L500 818.1 L500.5 820.3 L500.8 820.9 L501.6 828 L502 825.6 L502.5 823.1 L503 824.6 L504.5 828.2 L505.5 829.3 L506 830.3 L506.5 831.5 L508 833.9 L508.5 835 L509 836.5 L511 840.9 L511.5 841.7 L512 842.9 L512.5 844.4 L513.5 846.2 L514 847.5 L519 858.2 L520 860.6 L521 862.4 L523.5 868.3 L524.5 870.8 L527.5 877.2 L528.5 879.2 L530 882.7 L534 887.7 L537 891.5 L537.5 895.7 L670.5 894.4 L670.5 891.5 Z" fill="#5aa55a" stroke="#000" stroke-width="0.65" stroke-linejoin="round" />
<path d="M46.5 891.5 L46.5 893.4 L177.5 893.4 L177.9 891.4 L181 889.9 L184 885.9 L209 837.5 L209.8 862.2 L211.2 869.6 L212 833.5 L213 832.3 L220 826.7 L240 823 L245.6 822.4 L246 822.6 L246.4 824.5 L246.5 825.3 L247 823 L247.5 822.4 L247.7 822.3 L248 822.2 L248.5 822.2 L249 825.3 L249.3 823.9 L249.5 825.4 L250 822.2 L250.3 822.2 L250.5 822.1 L251.5 822.1 L252 822.4 L253 822.5 L254 822.3 L254.5 822.3 L254.6 822.1 L255 821.6 L255.5 821.4 L255.7 822.3 L256 820.7 L256.5 819.3 L257 819.4 L257.5 820.8 L257.6 820.9 L258.5 821.1 L259 820.4 L259.5 820.5 L260 821.5 L260.5 821.2 L261 822.3 L261.5 820.2 L262 820.5 L262.6 820.7 L263 820.9 L263.5 820.6 L264 819.9 L264.3 820.6 L264.5 820.5 L265 820 L265.1 819.8 L265.5 819.4 L266 819.6 L266.5 819.7 L266.8 819.6 L267 819.9 L267.5 846.6 L267.6 856.8 L268 821 L268.4 820.7 L268.5 820.9 L269 820.9 L270 819.7 L270.5 820.3 L270.8 826 L271 821.1 L271.6 819.9 L272 819.7 L272.5 819.1 L272.8 818.9 L273 818.9 L273.5 820.7 L273.6 826.8 L274 824.2 L274.5 818.8 L275.3 818.8 L275.5 818.2 L276 818 L276.5 817.9 L277 817.6 L277.7 817.8 L278 818 L278.5 817.9 L279 817.7 L279.3 818 L279.5 818.3 L280 817.9 L280.5 817.5 L281 817.6 L281.5 817.2 L282 817.7 L282.5 817.6 L282.7 817.8 L283 818.2 L283.5 831.2 L284 819.2 L284.3 819 L284.5 819 L285.1 819.5 L285.5 819.8 L286 819.7 L287.1 818.3 L287.5 818 L288 817.8 L288.5 818 L288.7 817.7 L289 817.6 L289.5 830.7 L290 815.6 L290.3 815.7 L290.5 816 L291 815.9 L291.5 815.2 L292 815.1 L292.5 814.8 L293 814.7 L293.5 814.9 L294 814.2 L294.5 813.9 L295 814.2 L296 813.9 L296.5 814.1 L297.5 814.7 L298 814.7 L298.5 814.5 L299 814.2 L299.5 814.2 L300 814.8 L300.5 814.8 L301 814.4 L302.5 815.9 L303 815.3 L303.5 814.5 L304 814.5 L304.5 814.9 L304.9 816 L305 816 L305.7 814.6 L306 814.2 L307.3 813.6 L307.5 813.6 L308 813.8 L308.3 824.1 L308.5 814.9 L309 813.6 L309.1 813.6 L309.5 813.8 L310 814.3 L310.5 814 L311 814.2 L311.5 814.7 L312 814.7 L312.5 814.9 L313 815 L313.1 814.9 L313.5 814.7 L313.9 817 L314 815.2 L314.5 815.4 L315 816.4 L315.5 816.2 L316 816.6 L316.3 819.9 L316.5 817.4 L317.1 815.9 L318 814.4 L319 812.5 L319.5 812.9 L320 813.6 L320.5 813.5 L320.8 813.9 L321 812.3 L321.5 811.8 L322 812.4 L322.5 813.3 L323 812.8 L323.5 812.1 L324 812.1 L324.3 811.9 L324.5 811.6 L325 811.5 L326 812.7 L326.5 813.6 L327 814 L327.5 814.1 L327.8 814.4 L328 814.2 L328.6 814.2 L329 814.4 L329.5 814.4 L329.7 814.1 L330 813.8 L330.5 813.6 L331 813.8 L332 813.5 L332.5 812.8 L333 811.7 L334 811.4 L334.5 812 L335 810.5 L335.5 809.5 L335.7 809.3 L336 809.3 L336.5 811.1 L337 809.5 L337.5 809 L338 809.1 L338.5 809.8 L339 810 L339.5 810.1 L340 810.7 L340.5 812.5 L341 810.7 L341.5 810.1 L342 810.5 L342.5 811.4 L343 810.6 L343.3 810.5 L343.5 810.6 L344.5 809 L345 809.8 L345.3 817.2 L345.5 811.4 L346 809.9 L346.1 809.7 L346.4 809.8 L347 810.8 L347.3 813.4 L347.5 811.3 L348 810.2 L348.5 810.7 L349 811.1 L349.3 810.8 L349.5 810.9 L350 811.6 L350.2 812.4 L350.5 810.6 L351.5 808.6 L352 808.1 L352.5 807.2 L353 806.8 L353.5 807.4 L354 807.3 L354.5 807.5 L355 808.1 L355.3 812.3 L355.5 808.5 L356.1 809 L357 810.2 L357.7 811.5 L358.5 812.4 L359 812.1 L359.5 822.2 L360 810.9 L360.5 811 L361 810.5 L361.5 810.7 L361.7 815.9 L362 809.9 L363 808.6 L363.5 808.3 L364 808.3 L364.3 808.2 L365.5 807.1 L366 807 L366.5 807.1 L367 807.6 L367.5 807.8 L368 807.4 L368.5 807.4 L368.6 807.5 L369 807.3 L369.5 807.7 L370 808.4 L370.4 808.5 L371 808.7 L371.2 810 L371.5 808.7 L372 808.8 L372.5 808.5 L372.7 808.5 L373 808.6 L373.5 810.1 L374 808.7 L374.3 808.3 L374.5 808.2 L375 808.2 L375.5 808 L376 808.8 L376.3 819.8 L376.5 810.1 L377 808.5 L377.5 808.2 L378.4 808 L379 808.6 L379.2 811.4 L379.5 808.6 L380 807.6 L380.5 807.7 L381 808.2 L382 806.3 L382.6 805.9 L383.4 806.1 L383.5 806 L384.2 806 L384.5 806.3 L385 805.9 L386 806.7 L386.5 806.4 L387 805.4 L387.5 804.8 L387.8 805.1 L388 805.5 L388.5 805.6 L389 805.2 L389.5 804.9 L390.2 804.7 L390.5 805.9 L391 805.6 L391.5 805.7 L392 805 L392.5 806 L393 806.7 L393.4 806.7 L393.5 807 L394 816.4 L394.2 831 L394.5 813.9 L395 807.8 L395.5 807.7 L396 807.9 L396.1 808 L396.6 808.1 L397 812.4 L397.5 849.4 L398 812.8 L398.4 806 L398.5 805.9 L399 805.9 L399.5 805.7 L400 804.8 L400.5 805 L401 805.6 L401.5 806.6 L402 807.4 L402.6 806.7 L403 806.4 L403.4 806.2 L404 810.5 L404.4 825.4 L404.5 819.7 L405 807.5 L405.4 805 L406 804.4 L407 805.5 L407.4 805.8 L408 812.4 L408.4 835 L408.5 827.3 L409 808.7 L409.4 805.9 L409.5 805.9 L409.7 805.8 L410 805.8 L410.4 805.7 L410.5 805.9 L411 807.8 L411.3 809.9 L411.5 808.3 L412 805.7 L412.2 805.1 L413 805 L413.5 805.3 L414 805.5 L414.5 806.2 L415 807.5 L415.3 807.4 L416 806.9 L416.5 806.9 L417 806.6 L417.7 806.5 L418 806.6 L418.5 807.3 L419.2 808 L419.5 807.7 L420 807.4 L420.8 807.3 L421 807.4 L421.6 807.5 L422 810.7 L422.5 831.5 L422.6 838.4 L423 816.5 L423.6 807.4 L424.5 805.4 L425 805 L425.2 805.1 L425.5 805.5 L425.6 805.5 L426 809.5 L426.5 835.3 L426.6 843.6 L427 817.6 L427.6 805.6 L428 804.9 L428.5 804.9 L429 804.8 L429.2 804.6 L429.5 804.6 L429.6 804.7 L430 815.1 L430.5 854.5 L431 816.8 L431.4 805.4 L431.9 805.2 L432 805.4 L432.5 805.5 L433 805.9 L433.5 806.8 L433.6 806.8 L434 805.8 L434.5 805 L435 805.9 L436 806.7 L436.5 806.4 L437 806.4 L437.5 805.5 L438 805.3 L438.4 807 L439 830.6 L439.4 865.2 L440 819.1 L440.4 808.5 L440.5 808.4 L441.5 806.6 L442 806.3 L442.5 806.1 L443 806.2 L444 806.8 L444.5 806.9 L445 806.5 L445.5 806 L445.8 805.8 L446 806.2 L446.5 808 L447 810.3 L447.4 813.3 L448 809.7 L448.5 807.5 L449.5 808.3 L450 809 L450.5 809.6 L451.5 807.9 L452 807.6 L452.5 807.1 L453 806.8 L453.5 806.1 L454 806.3 L454.5 806.8 L455 806.2 L455.5 806.3 L456 807.1 L457 808.1 L457.3 807.7 L457.5 807.7 L458 808.3 L458.5 809.4 L459 809.1 L459.2 809.2 L459.5 821.9 L460 856.3 L460.5 824.8 L460.9 807.8 L461 807.7 L461.5 806.8 L461.6 806.7 L462 807 L462.5 807.6 L463 807.5 L463.3 807.5 L463.5 812.9 L464.2 850.8 L465.3 861.4 L466 827.1 L466.5 809.3 L466.6 807.4 L467 808.4 L467.5 808.8 L468 808.5 L468.5 809.1 L469 809.3 L469.5 808.8 L470 809.4 L470.5 811.4 L470.6 811.2 L471 811.2 L471.4 812.7 L472.3 860.3 L473 820.4 L473.2 813.2 L473.5 813.8 L474 813 L474.5 814 L475 814.1 L475.5 812.6 L476 812.8 L476.5 813.3 L477 813.5 L477.5 814.7 L478 814.7 L478.5 814.3 L479 815.3 L479.5 816.6 L480 818.3 L480.5 819.5 L481 819.1 L481.5 818.4 L482 819.2 L483 819.4 L483.5 820.2 L484 820.2 L484.5 820 L485 819.5 L485.5 819.8 L486 821.4 L486.5 822.3 L486.8 821.8 L487 821.6 L487.4 821.8 L488.3 854.7 L489 831 L489.2 824.4 L489.5 824.1 L489.6 823.8 L490 824.6 L490.5 825.1 L491 825.1 L491.5 825.5 L492 826.5 L493 827.4 L493.5 827.7 L494 828.1 L494.5 827.7 L495 828.4 L495.5 829.5 L496 829.1 L496.5 829.4 L497 830.3 L498.5 832 L499 832.4 L499.5 832.6 L500 833.2 L500.5 834.7 L500.8 835.2 L501.6 840.7 L502 838.7 L502.5 836.7 L504.5 840.3 L505.5 841 L506 841.7 L506.5 842.5 L508 844.2 L508.5 845 L509 846 L511 849.3 L511.5 849.9 L512 850.8 L512.5 852 L513.5 853.4 L514.5 855.2 L519 862.7 L521 866.2 L527.5 879.5 L528.5 881.4 L530 884.5 L534 888.5 L537 891.5 L537.5 895.4 L670.5 894 L670.5 891.5 Z" fill="#ffd700" stroke="#000" stroke-width="0.65" stroke-linejoin="round" />
<path d="M46.5 891.5 L46.5 891.7 L177.5 891.7 L178 891.4 L201 884.5 L209 882.9 L209.8 886.8 L211.2 888 L212 882.1 L220 880.3 L245.6 879 L246 879 L246.5 879.5 L247 879.1 L248 878.9 L248.5 878.8 L249 879.4 L249.3 879.1 L249.5 879.4 L250 878.8 L251.5 878.8 L252 878.9 L253.5 878.9 L254.5 878.8 L255 878.5 L255.5 878.3 L255.7 878.5 L256.5 877.7 L257 877.8 L257.6 878.2 L258.5 878.4 L259 878.1 L259.5 878.1 L260 878.5 L260.5 878.3 L261 878.4 L261.5 878 L263 878.2 L263.5 878.1 L264 877.8 L264.3 878 L264.5 878 L265.5 877.7 L266.5 877.8 L266.8 877.8 L267 877.8 L267.5 882.9 L267.6 884.8 L268 878.1 L269 878.2 L270 877.8 L270.5 877.9 L270.8 879 L271 878.1 L273 877.5 L273.5 877.8 L273.6 878.9 L274 878.4 L274.5 877.4 L275.3 877.2 L275.5 877.1 L276.5 877.1 L277 877 L278 877.1 L279 877 L279.5 877.2 L280.5 877 L281 877 L281.5 876.8 L282 877 L282.5 877 L283 877.2 L283.5 879.9 L284 877.5 L284.5 877.5 L285.5 877.7 L286 877.7 L287.5 877.1 L288 877 L288.5 877.1 L289 876.9 L289.5 879.3 L290 876.2 L290.5 876.4 L291 876.3 L291.5 876.1 L293 875.9 L293.5 875.9 L294 875.7 L294.6 875.6 L295 875.7 L296 875.6 L297.5 875.8 L298.5 875.8 L299 875.7 L299.5 875.7 L300 875.9 L300.5 875.9 L301 875.7 L302.5 876.2 L303.5 875.7 L304.1 875.6 L304.5 875.8 L305 876.1 L306 875.5 L307.5 875.2 L308 875.2 L308.3 877.3 L308.5 875.4 L309 875.1 L309.5 875.2 L310 875.3 L310.5 875.2 L311 875.3 L311.5 875.4 L313 875.5 L313.5 875.3 L313.9 875.8 L314 875.4 L314.6 875.6 L315 875.9 L315.5 875.8 L316 875.9 L316.3 876.6 L316.5 876.1 L319 874.3 L319.5 874.4 L320 874.6 L320.5 874.5 L320.8 874.5 L321 874.1 L321.5 874 L322.5 874.5 L323 874.3 L323.5 874.1 L324 874 L324.5 873.8 L325 873.8 L326 874.2 L326.5 874.5 L327 874.6 L328.6 874.6 L329 874.7 L329.5 874.6 L330 874.4 L330.5 874.3 L331 874.4 L332 874.3 L332.5 874 L333 873.6 L334 873.5 L334.5 873.6 L335.5 872.8 L336 872.6 L336.5 873 L337 872.7 L337.5 872.6 L338 872.6 L338.5 872.8 L339.7 873 L340 873.1 L340.5 873.6 L341 873.1 L341.5 872.9 L342 873 L342.5 873.2 L343 873.1 L343.5 873.1 L344.5 872.5 L345 872.7 L345.3 874.4 L345.5 873.1 L346.1 872.7 L347 873 L347.3 873.6 L347.5 873.1 L348 872.9 L349 873.2 L349.5 873.1 L350 873.3 L350.2 873.4 L350.5 873 L351.6 872.3 L352 872.2 L352.5 871.9 L353 871.7 L353.5 871.9 L354 871.9 L354.5 872 L355 872.1 L355.3 873.1 L355.5 872.2 L357 872.9 L357.7 873.3 L358.5 873.6 L359 873.5 L359.5 875.7 L360 873 L360.5 873.1 L361 872.9 L361.5 872.8 L361.7 874 L362 872.6 L362.5 872.4 L363 872.2 L363.5 872 L364.5 871.9 L365.5 871.6 L366.5 871.5 L367.5 871.8 L368 871.6 L369 871.5 L369.5 871.7 L370 871.9 L371 871.9 L371.2 872.3 L371.5 871.9 L372 872 L372.7 871.9 L373 871.9 L373.5 872.3 L374 871.9 L374.5 871.7 L375.5 871.6 L376 871.9 L376.3 874.5 L376.5 872.2 L377.1 871.8 L378.5 871.6 L379 871.7 L379.2 872.4 L379.5 871.7 L380 871.4 L380.5 871.4 L381 871.6 L382 870.9 L382.6 870.7 L384.2 870.7 L384.5 870.8 L385 870.7 L386 870.9 L386.5 870.8 L387 870.4 L387.5 870.2 L388 870.4 L388.5 870.5 L390.2 870.1 L390.5 870.4 L391.5 870.5 L392 870.3 L393 870.9 L393.4 870.9 L393.5 870.9 L394 873.2 L394.2 876.8 L394.5 872.7 L395 871.3 L395.5 871.3 L396.6 871.4 L397 872.3 L397.5 881.4 L398 872.4 L398.5 870.6 L399.5 870.6 L400 870.3 L400.5 870.3 L401 870.6 L402 871.2 L403 870.9 L403.5 870.9 L404 871.8 L404.4 875.4 L404.5 874 L405 871 L405.4 870.4 L406 870.2 L407.4 870.7 L408 872.2 L408.4 877.7 L408.5 875.8 L409 871.4 L409.4 870.7 L410.4 870.7 L410.5 870.8 L411 871.2 L411.3 871.7 L411.5 871.3 L412 870.7 L412.2 870.5 L413 870.5 L414 870.7 L414.5 870.9 L415 871.4 L416 871.2 L416.5 871.2 L417 871.1 L418 871.2 L419.2 871.5 L420.8 871.4 L421.6 871.5 L422 872.3 L422.5 877.2 L422.6 878.9 L423 873.7 L423.6 871.5 L424.5 870.8 L425 870.7 L425.5 870.8 L425.6 870.8 L426 871.8 L426.5 877.9 L426.6 879.9 L427 873.8 L427.6 870.9 L428 870.7 L429.6 870.6 L430 873.2 L430.5 882.5 L431 873.5 L431.4 870.8 L432.5 870.9 L433 871 L433.5 871.3 L433.6 871.3 L434 871 L434.5 870.8 L435 871.2 L436 871.4 L437 871.3 L437.5 871 L438 871 L438.4 871.5 L439 877.2 L439.4 885.4 L440 874.5 L440.4 872 L441.5 871.6 L442.5 871.6 L444.5 872.1 L445 872.1 L445.5 871.9 L445.8 871.9 L446 872 L447 873.1 L447.4 873.9 L448 873.3 L448.5 872.9 L449.5 873.3 L450.5 873.8 L451.5 873.4 L453 873.2 L453.5 873 L454 873.1 L454.5 873.4 L455 873.3 L455.5 873.4 L456 873.7 L457 874.1 L457.5 874 L458 874.1 L458.5 874.4 L459 874.3 L459.2 874.3 L459.5 876.9 L460 884.1 L460.5 877.6 L460.9 874.2 L461.5 874 L462.5 874.4 L463.3 874.4 L463.5 875.5 L464.2 883.1 L465 884.5 L465.3 885.2 L466 878.4 L466.5 874.9 L466.6 874.5 L467 874.8 L467.5 875 L468 874.9 L469 875.3 L469.5 875.1 L470 875.3 L470.5 875.8 L471 875.8 L471.4 876.2 L472.3 885.5 L473 877.6 L473.2 876.1 L473.5 876.3 L474 875.9 L474.5 876.1 L475 876 L475.5 875.6 L476 875.6 L476.5 875.8 L477 875.8 L477.5 876 L478.5 875.8 L479.5 876.4 L480.5 877.2 L481 877.2 L481.5 877.1 L482 877.3 L483 877.3 L483.5 877.6 L484.5 877.6 L485 877.5 L485.5 877.6 L486 878.1 L486.5 878.4 L487 878.3 L487.4 878.3 L488.3 884.5 L489 880.2 L489.2 879.1 L489.6 879.1 L490 879.2 L491 879.4 L492 879.8 L492.5 879.9 L493 880 L494 880.1 L494.5 880 L495 880.2 L495.5 880.4 L496 880.4 L497.5 880.8 L498.5 881.2 L499 881.3 L500 881.4 L500.5 881.8 L500.8 881.9 L501.6 882.8 L502 882.5 L502.5 882.2 L504.5 883.1 L505.5 883.2 L507 883.7 L508 883.8 L508.5 884 L509.5 884.5 L511 885 L512 885.2 L512.5 885.5 L513.5 885.7 L520 887.7 L523.5 888.5 L528.5 889.5 L537 891.5 L537.5 891.7 L670.5 891.7 L670.5 891.5 Z" fill="#6495ed" stroke="#000" stroke-width="0.65" stroke-linejoin="round" />
<path d="M46.5 5.3 V141.5 H670.5 V5.3" fill="none" stroke="#1c1c1c" stroke-width="1.15"/>
<path d="M46.5 5.3h6.4M670.5 5.3h-6.4M46.5 22.3h3.4M670.5 22.3h-3.4M46.5 39.3h6.4M670.5 39.3h-6.4M46.5 56.4h3.4M670.5 56.4h-3.4M46.5 73.4h6.4M670.5 73.4h-6.4M46.5 90.4h3.4M670.5 90.4h-3.4M46.5 107.4h6.4M670.5 107.4h-6.4M46.5 124.4h3.4M670.5 124.4h-3.4M46.5 141.5h6.4M670.5 141.5h-6.4M72.5 141.5v-3.4M98.5 141.5v-6.4M124.5 141.5v-3.4M150.5 141.5v-6.4M176.5 141.5v-3.4M202.5 141.5v-6.4M228.5 141.5v-3.4M254.5 141.5v-6.4M280.5 141.5v-3.4M306.5 141.5v-6.4M332.5 141.5v-3.4M358.5 141.5v-6.4M384.5 141.5v-3.4M410.5 141.5v-6.4M436.5 141.5v-3.4M462.5 141.5v-6.4M488.5 141.5v-3.4M514.5 141.5v-6.4M540.5 141.5v-3.4M566.5 141.5v-6.4M592.5 141.5v-3.4M618.5 141.5v-6.4M644.5 141.5v-3.4" fill="none" stroke="#1c1c1c" stroke-width="0.8"/>
<path d="M46.5 157.6 V293.7 H670.5" fill="none" stroke="#1c1c1c" stroke-width="1.15"/>
<path d="M46.5 157.6h6.4M46.5 174.6h3.4M46.5 191.6h6.4M46.5 208.6h3.4M46.5 225.6h6.4M46.5 242.7h3.4M46.5 259.7h6.4M46.5 276.7h3.4M46.5 293.7h6.4M72.5 293.7v-3.4M98.5 293.7v-6.4M124.5 293.7v-3.4M150.5 293.7v-6.4M176.5 293.7v-3.4M202.5 293.7v-6.4M228.5 293.7v-3.4M254.5 293.7v-6.4M280.5 293.7v-3.4M306.5 293.7v-6.4M332.5 293.7v-3.4M358.5 293.7v-6.4M384.5 293.7v-3.4M410.5 293.7v-6.4M436.5 293.7v-3.4M462.5 293.7v-6.4M488.5 293.7v-3.4M514.5 293.7v-6.4M540.5 293.7v-3.4M566.5 293.7v-6.4M592.5 293.7v-3.4M618.5 293.7v-6.4M644.5 293.7v-3.4M670.5 293.7v-6.4" fill="none" stroke="#1c1c1c" stroke-width="0.8"/>
<path d="M46.5 309.8 V446 H670.5" fill="none" stroke="#1c1c1c" stroke-width="1.15"/>
<path d="M46.5 309.8h6.4M46.5 326.9h3.4M46.5 343.9h6.4M46.5 360.9h3.4M46.5 377.9h6.4M46.5 394.9h3.4M46.5 412h6.4M46.5 429h3.4M46.5 446h6.4M72.5 446v-3.4M98.5 446v-6.4M124.5 446v-3.4M150.5 446v-6.4M176.5 446v-3.4M202.5 446v-6.4M228.5 446v-3.4M254.5 446v-6.4M280.5 446v-3.4M306.5 446v-6.4M332.5 446v-3.4M358.5 446v-6.4M384.5 446v-3.4M410.5 446v-6.4M436.5 446v-3.4M462.5 446v-6.4M488.5 446v-3.4M514.5 446v-6.4M540.5 446v-3.4M566.5 446v-6.4M592.5 446v-3.4M618.5 446v-6.4M644.5 446v-3.4M670.5 446v-6.4" fill="none" stroke="#1c1c1c" stroke-width="0.8"/>
<path d="M46.5 462.1 V598.3 H670.5" fill="none" stroke="#1c1c1c" stroke-width="1.15"/>
<path d="M46.5 462.1h6.4M46.5 479.1h3.4M46.5 496.1h6.4M46.5 513.2h3.4M46.5 530.2h6.4M46.5 547.2h3.4M46.5 564.2h6.4M46.5 581.2h3.4M46.5 598.3h6.4M72.5 598.3v-3.4M98.5 598.3v-6.4M124.5 598.3v-3.4M150.5 598.3v-6.4M176.5 598.3v-3.4M202.5 598.3v-6.4M228.5 598.3v-3.4M254.5 598.3v-6.4M280.5 598.3v-3.4M306.5 598.3v-6.4M332.5 598.3v-3.4M358.5 598.3v-6.4M384.5 598.3v-3.4M410.5 598.3v-6.4M436.5 598.3v-3.4M462.5 598.3v-6.4M488.5 598.3v-3.4M514.5 598.3v-6.4M540.5 598.3v-3.4M566.5 598.3v-6.4M592.5 598.3v-3.4M618.5 598.3v-6.4M644.5 598.3v-3.4M670.5 598.3v-6.4" fill="none" stroke="#1c1c1c" stroke-width="0.8"/>
<path d="M46.5 614.4 V750.5 H670.5" fill="none" stroke="#1c1c1c" stroke-width="1.15"/>
<path d="M46.5 614.4h6.4M46.5 631.4h3.4M46.5 648.4h6.4M46.5 665.4h3.4M46.5 682.5h6.4M46.5 699.5h3.4M46.5 716.5h6.4M46.5 733.5h3.4M46.5 750.5h6.4M72.5 750.5v-3.4M98.5 750.5v-6.4M124.5 750.5v-3.4M150.5 750.5v-6.4M176.5 750.5v-3.4M202.5 750.5v-6.4M228.5 750.5v-3.4M254.5 750.5v-6.4M280.5 750.5v-3.4M306.5 750.5v-6.4M332.5 750.5v-3.4M358.5 750.5v-6.4M384.5 750.5v-3.4M410.5 750.5v-6.4M436.5 750.5v-3.4M462.5 750.5v-6.4M488.5 750.5v-3.4M514.5 750.5v-6.4M540.5 750.5v-3.4M566.5 750.5v-6.4M592.5 750.5v-3.4M618.5 750.5v-6.4M644.5 750.5v-3.4M670.5 750.5v-6.4" fill="none" stroke="#1c1c1c" stroke-width="0.8"/>
<path d="M46.5 766.6 V902.8 H670.5" fill="none" stroke="#1c1c1c" stroke-width="1.15"/>
<path d="M46.5 766.6h6.4M46.5 783.7h3.4M46.5 800.7h6.4M46.5 817.7h3.4M46.5 834.7h6.4M46.5 851.7h3.4M46.5 868.8h6.4M46.5 885.8h3.4M46.5 902.8h6.4M72.5 902.8v-3.4M98.5 902.8v-6.4M124.5 902.8v-3.4M150.5 902.8v-6.4M176.5 902.8v-3.4M202.5 902.8v-6.4M228.5 902.8v-3.4M254.5 902.8v-6.4M280.5 902.8v-3.4M306.5 902.8v-6.4M332.5 902.8v-3.4M358.5 902.8v-6.4M384.5 902.8v-3.4M410.5 902.8v-6.4M436.5 902.8v-3.4M462.5 902.8v-6.4M488.5 902.8v-3.4M514.5 902.8v-6.4M540.5 902.8v-3.4M566.5 902.8v-6.4M592.5 902.8v-3.4M618.5 902.8v-6.4M644.5 902.8v-3.4M670.5 902.8v-6.4" fill="none" stroke="#1c1c1c" stroke-width="0.8"/>
<g font-family="'Liberation Sans', sans-serif" font-size="10.67" fill="#141414">
<text x="42" y="9.5" text-anchor="end">2400</text>
<text x="42" y="43.5" text-anchor="end">1800</text>
<text x="42" y="77.6" text-anchor="end">1200</text>
<text x="42" y="111.6" text-anchor="end">600</text>
<text x="42" y="145.7" text-anchor="end">0</text>
<text x="42" y="161.8" text-anchor="end">200</text>
<text x="42" y="195.8" text-anchor="end">150</text>
<text x="42" y="229.8" text-anchor="end">100</text>
<text x="42" y="263.9" text-anchor="end">50</text>
<text x="42" y="297.9" text-anchor="end">0</text>
<text x="42" y="314" text-anchor="end">40</text>
<text x="42" y="348.1" text-anchor="end">30</text>
<text x="42" y="382.1" text-anchor="end">20</text>
<text x="42" y="416.2" text-anchor="end">10</text>
<text x="42" y="450.2" text-anchor="end">0</text>
<text x="42" y="466.3" text-anchor="end">100</text>
<text x="42" y="500.3" text-anchor="end">75</text>
<text x="42" y="534.4" text-anchor="end">50</text>
<text x="42" y="568.4" text-anchor="end">25</text>
<text x="42" y="602.5" text-anchor="end">0</text>
<text x="42" y="618.6" text-anchor="end">40</text>
<text x="42" y="652.6" text-anchor="end">30</text>
<text x="42" y="686.7" text-anchor="end">20</text>
<text x="42" y="720.7" text-anchor="end">10</text>
<text x="42" y="754.7" text-anchor="end">0</text>
<text x="42" y="770.9" text-anchor="end">22</text>
<text x="42" y="804.9" text-anchor="end">16</text>
<text x="42" y="838.9" text-anchor="end">10</text>
<text x="42" y="873" text-anchor="end">4</text>
<text x="42" y="907" text-anchor="end">-2</text>
<text x="674.8" y="9.4">40</text>
<text x="674.8" y="43.4">30</text>
<text x="674.8" y="77.5">20</text>
<text x="674.8" y="111.5">10</text>
<text x="674.8" y="145.6">0</text>
<text x="46.5" y="920" text-anchor="middle">0</text>
<text x="98.5" y="920" text-anchor="middle">2</text>
<text x="150.5" y="920" text-anchor="middle">4</text>
<text x="202.5" y="920" text-anchor="middle">6</text>
<text x="254.5" y="920" text-anchor="middle">8</text>
<text x="306.5" y="920" text-anchor="middle">10</text>
<text x="358.5" y="920" text-anchor="middle">12</text>
<text x="410.5" y="920" text-anchor="middle">14</text>
<text x="462.5" y="920" text-anchor="middle">16</text>
<text x="514.5" y="920" text-anchor="middle">18</text>
<text x="566.5" y="920" text-anchor="middle">20</text>
<text x="618.5" y="920" text-anchor="middle">22</text>
<text x="670.5" y="920" text-anchor="middle">24</text>
<text x="358.5" y="936.6" text-anchor="middle" font-size="11.1" word-spacing="0.4">Time of day <tspan font-size="12.6">(</tspan>hour<tspan font-size="12.6">)</tspan></text>
<text transform="translate(11.6 72.9) rotate(-90)" text-anchor="middle" word-spacing="0.5" font-size="10.9">PAR <tspan font-size="12.6">(</tspan>&#956;mol PPFD m<tspan font-size="8" dy="-4.4">&#8722;2</tspan><tspan dy="4.4" font-size="2">&#8203;</tspan> s<tspan font-size="8" dy="-4.4">&#8722;1</tspan><tspan dy="4.4" font-size="2">&#8203;</tspan><tspan font-size="12.6">)</tspan></text>
<text transform="translate(11.6 226.7) rotate(-90)" text-anchor="middle" word-spacing="0.5" font-size="10.9">J<tspan font-size="8.2" dy="2.5">P700</tspan><tspan dy="-2.5" font-size="2">&#8203;</tspan> <tspan font-size="12.6">(</tspan>&#956;mol e<tspan font-size="8" dy="-4.4">-</tspan><tspan dy="4.4" font-size="2">&#8203;</tspan> m<tspan font-size="8" dy="-4.4">&#8722;2</tspan><tspan dy="4.4" font-size="2">&#8203;</tspan> s<tspan font-size="8" dy="-4.4">&#8722;1</tspan><tspan dy="4.4" font-size="2">&#8203;</tspan><tspan font-size="12.6">)</tspan></text>
<text transform="translate(11.6 378.8) rotate(-90)" text-anchor="middle" word-spacing="0.5" font-size="10.9">Fraction of CEF1 <tspan font-size="12.6">(</tspan>%<tspan font-size="12.6">)</tspan></text>
<text transform="translate(11.6 529.2) rotate(-90)" text-anchor="middle" word-spacing="0.5" font-size="10.9">PS II yield for NPQ <tspan font-size="12.6">(</tspan>%<tspan font-size="12.6">)</tspan></text>
<text transform="translate(11.6 682.1) rotate(-90)" text-anchor="middle" word-spacing="0.5" font-size="10.9">PC of Cyt b<tspan font-size="8.2" dy="2.5">6</tspan><tspan dy="-2.5" font-size="2">&#8203;</tspan>f <tspan font-size="12.6">(</tspan>%<tspan font-size="12.6">)</tspan></text>
<text transform="translate(11.6 833.8) rotate(-90)" text-anchor="middle" word-spacing="0.5" font-size="10.9">A <tspan font-size="12.6">(</tspan>&#956;mol CO<tspan font-size="8.2" dy="2.5">2</tspan><tspan dy="-2.5" font-size="2">&#8203;</tspan> m<tspan font-size="8" dy="-4.4">&#8722;2</tspan><tspan dy="4.4" font-size="2">&#8203;</tspan> s<tspan font-size="8" dy="-4.4">&#8722;1</tspan><tspan dy="4.4" font-size="2">&#8203;</tspan><tspan font-size="12.6">)</tspan></text>
<text transform="translate(704.2 73.5) rotate(-90)" text-anchor="middle" font-size="11.2" word-spacing="0.8">Temperature <tspan font-size="12.6">(</tspan>&#176;C<tspan font-size="12.6">)</tspan></text>
<text x="61.6" y="12.7" font-weight="bold" font-size="17">(a)</text>
<text x="61.6" y="167.8" font-weight="bold" font-size="17">(b)</text>
<text x="61.6" y="323.2" font-weight="bold" font-size="17">(c)</text>
<text x="61.6" y="472.4" font-weight="bold" font-size="17">(d)</text>
<text x="61.6" y="624.2" font-weight="bold" font-size="17">(e)</text>
<text x="61.6" y="777.7" font-weight="bold" font-size="17">(f)</text>
<text x="141.3" y="18.9">Photosynthetically active radiation</text>
<text x="141.3" y="46.1">Air temperature</text>
<text x="587.2" y="185.2">Mesophyll</text>
<text x="587.2" y="212.8">Bundle sheath</text>
<text x="586.4" y="794.3">Whole leaf</text>
<text x="586.8" y="820.7">Mesophyll</text>
<text x="586.4" y="849.3">Bundle sheath</text>
<text x="61" y="221.4" word-spacing="-0.25">Pure Rubisco <tspan font-size="13.5">-</tspan> limited rates</text>
<text x="148.7" y="192.6" word-spacing="-0.5">Pure Cyt b<tspan font-size="8.2" dy="2.5">6</tspan><tspan dy="-2.5" font-size="2">&#8203;</tspan>f <tspan font-size="13.5">-</tspan> limited rates</text>
<text x="491" y="352.1">CEF1 peaked with temperature</text>
<text x="116.4" y="504.5">NPQ engaged at</text>
<text x="116.4" y="525.4">limiting light</text>
<text x="497" y="657.8">PC relaxed in bundle sheath</text>
<text x="497" y="677.6">and engaged in mesophyll</text>
</g>
<rect x="111" y="8.8" width="26.4" height="13.6" fill="#5a5a5a" stroke="#333" stroke-width="0.7"/>
<rect x="111" y="36.3" width="26.4" height="13.6" fill="#c0c0c0" stroke="#333" stroke-width="0.7"/>
<rect x="553.2" y="174.8" width="26.4" height="13.6" fill="#ffd700" stroke="#333" stroke-width="0.7"/>
<rect x="553.2" y="202.2" width="26.4" height="13.6" fill="#6495ed" stroke="#333" stroke-width="0.7"/>
<rect x="553.2" y="783.8" width="26.4" height="13.6" fill="#5aa55a" stroke="#333" stroke-width="0.7"/>
<rect x="553.2" y="811.3" width="26.4" height="13.6" fill="#ffd700" stroke="#333" stroke-width="0.7"/>
<rect x="553.2" y="838.8" width="26.4" height="13.6" fill="#6495ed" stroke="#333" stroke-width="0.7"/>
<path d="M124.1 229.5 L143.9 242.3" stroke="#000" stroke-width="1" fill="none"/>
<path d="M150.5 246.6 L138.4 244.6 L143.9 242.3 L143.8 236.4 Z" fill="#111"/>
<path d="M124.1 229.5 L135.5 279.5" stroke="#000" stroke-width="1" fill="none"/>
<path d="M137.2 287.1 L129.9 277.3 L135.5 279.5 L139.5 275.1 Z" fill="#111"/>
<path d="M202.6 199.5 L234.8 221.1" stroke="#000" stroke-width="1" fill="none"/>
<path d="M241.3 225.5 L229.3 223.3 L234.8 221.1 L234.7 215.2 Z" fill="#111"/>
<path d="M202.6 199.5 L225.7 279.6" stroke="#000" stroke-width="1" fill="none"/>
<path d="M227.9 287.1 L220.1 277.7 L225.7 279.6 L229.5 275 Z" fill="#111"/>
<path d="M489.5 346.3 L442.9 359.1" stroke="#000" stroke-width="1" fill="none"/>
<path d="M435.3 361.2 L444.8 353.5 L442.9 359.1 L447.4 363 Z" fill="#111"/>
<path d="M150.2 537.4 L171.6 564.7" stroke="#000" stroke-width="1" fill="none"/>
<path d="M176.4 570.9 L165.6 565.1 L171.6 564.7 L173.4 559.1 Z" fill="#111"/>
<path d="M489.5 674.6 L442.9 687.2" stroke="#000" stroke-width="1" fill="none"/>
<path d="M435.3 689.2 L444.8 681.6 L442.9 687.2 L447.4 691 Z" fill="#111"/>
</svg>
</body></html>
